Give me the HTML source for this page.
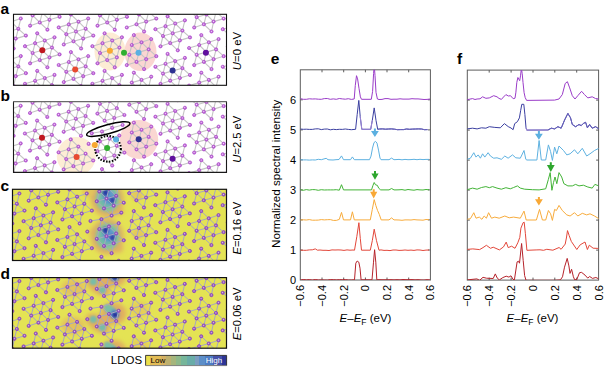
<!DOCTYPE html>
<html><head><meta charset="utf-8"><style>html,body{margin:0;padding:0;background:#fff;}svg{display:block;}</style></head><body>
<svg width="605" height="367" viewBox="0 0 605 367">
<defs>
<clipPath id="clipa"><rect x="13.5" y="14.3" width="213.0" height="71.0"/></clipPath>
<clipPath id="clipb"><rect x="13.5" y="101.6" width="213.0" height="70.80000000000001"/></clipPath>
<clipPath id="clipc"><rect x="12.5" y="189.3" width="214.0" height="71.19999999999999"/></clipPath>
<clipPath id="clipd"><rect x="12.5" y="277.6" width="214.0" height="70.59999999999997"/></clipPath>
<radialGradient id="atomg" cx="0.45" cy="0.45" r="0.6"><stop offset="0" stop-color="#f4e2f8"/><stop offset="0.45" stop-color="#c474dc"/><stop offset="1" stop-color="#ac4ccc"/></radialGradient>
<radialGradient id="atomg2" cx="0.45" cy="0.45" r="0.6"><stop offset="0" stop-color="#dcc0e6"/><stop offset="0.45" stop-color="#a468c8"/><stop offset="1" stop-color="#9656bf"/></radialGradient>
<filter id="blur3" x="-50%" y="-50%" width="200%" height="200%"><feGaussianBlur stdDeviation="3"/></filter>
<filter id="blur2" x="-50%" y="-50%" width="200%" height="200%"><feGaussianBlur stdDeviation="2"/></filter>
<filter id="blur1" x="-50%" y="-50%" width="200%" height="200%"><feGaussianBlur stdDeviation="1.1"/></filter>
<linearGradient id="cbar" x1="0" x2="1" y1="0" y2="0"><stop offset="0" stop-color="#ece14a"/><stop offset="0.12" stop-color="#e2c255"/><stop offset="0.3" stop-color="#c7b66c"/><stop offset="0.45" stop-color="#9fbd82"/><stop offset="0.6" stop-color="#74b7a0"/><stop offset="0.75" stop-color="#6a9ec4"/><stop offset="0.88" stop-color="#5578c4"/><stop offset="1" stop-color="#2a3596"/></linearGradient>
</defs>
<rect width="605" height="367" fill="#fff"/>
<g font-family='"Liberation Sans", sans-serif' font-weight="bold" font-size="15.5" fill="#000">
<text x="0.5" y="13.8">a</text>
<text x="0.5" y="100.8">b</text>
<text x="0.5" y="191.0">c</text>
<text x="0.5" y="278.8">d</text>
<text x="270.7" y="64.2">e</text>
<text x="457" y="63.8">f</text>
</g>
<rect x="13.5" y="14.3" width="213.0" height="71.0" fill="#fff"/>
<g clip-path="url(#clipa)">
<ellipse cx="110" cy="51.5" rx="15.5" ry="19" fill="#fdecd4"/>
<ellipse cx="140.5" cy="51.8" rx="16" ry="19.3" fill="#fad6d2"/>
</g>
<g clip-path="url(#clipa)">
<g stroke="#c4c4c4" stroke-width="1.1" fill="none">
<line x1="8.6" y1="69.1" x2="18.3" y2="66.4"/>
<line x1="18.3" y1="66.4" x2="15.8" y2="76.2"/>
<line x1="25.9" y1="73.2" x2="18.3" y2="66.4"/>
<line x1="25.9" y1="73.2" x2="15.8" y2="76.2"/>
<line x1="8.6" y1="69.1" x2="15.8" y2="76.2"/>
<line x1="15.8" y1="76.2" x2="6.1" y2="78.9"/>
<line x1="13.7" y1="86.1" x2="15.8" y2="76.2"/>
<line x1="13.7" y1="86.1" x2="6.1" y2="78.9"/>
<line x1="1.4" y1="62.0" x2="11.1" y2="59.3"/>
<line x1="3.5" y1="52.1" x2="11.1" y2="59.3"/>
<line x1="8.6" y1="69.1" x2="11.1" y2="59.3"/>
<line x1="11.1" y1="59.3" x2="18.3" y2="66.4"/>
<line x1="20.8" y1="56.1" x2="11.1" y2="59.3"/>
<line x1="20.8" y1="56.1" x2="18.3" y2="66.4"/>
<line x1="42.3" y1="87.9" x2="52.0" y2="85.2"/>
<line x1="52.0" y1="85.2" x2="49.5" y2="95.0"/>
<line x1="59.6" y1="92.0" x2="52.0" y2="85.2"/>
<line x1="42.3" y1="87.9" x2="49.5" y2="95.0"/>
<line x1="42.3" y1="87.9" x2="39.8" y2="97.7"/>
<line x1="42.3" y1="87.9" x2="32.6" y2="90.6"/>
<line x1="32.6" y1="90.6" x2="35.1" y2="80.8"/>
<line x1="25.0" y1="83.8" x2="32.6" y2="90.6"/>
<line x1="25.0" y1="83.8" x2="35.1" y2="80.8"/>
<line x1="42.3" y1="87.9" x2="35.1" y2="80.8"/>
<line x1="35.1" y1="80.8" x2="44.8" y2="78.1"/>
<line x1="37.2" y1="70.9" x2="35.1" y2="80.8"/>
<line x1="37.2" y1="70.9" x2="44.8" y2="78.1"/>
<line x1="42.3" y1="87.9" x2="44.8" y2="78.1"/>
<line x1="44.8" y1="78.1" x2="52.0" y2="85.2"/>
<line x1="54.5" y1="74.9" x2="44.8" y2="78.1"/>
<line x1="54.5" y1="74.9" x2="52.0" y2="85.2"/>
<line x1="8.6" y1="31.5" x2="18.3" y2="28.8"/>
<line x1="18.3" y1="28.8" x2="15.8" y2="38.6"/>
<line x1="25.9" y1="35.6" x2="18.3" y2="28.8"/>
<line x1="25.9" y1="35.6" x2="15.8" y2="38.6"/>
<line x1="8.6" y1="31.5" x2="15.8" y2="38.6"/>
<line x1="15.8" y1="38.6" x2="6.1" y2="41.3"/>
<line x1="13.7" y1="48.5" x2="15.8" y2="38.6"/>
<line x1="13.7" y1="48.5" x2="6.1" y2="41.3"/>
<line x1="1.4" y1="24.4" x2="11.1" y2="21.7"/>
<line x1="3.5" y1="14.5" x2="11.1" y2="21.7"/>
<line x1="8.6" y1="31.5" x2="11.1" y2="21.7"/>
<line x1="11.1" y1="21.7" x2="18.3" y2="28.8"/>
<line x1="20.8" y1="18.5" x2="11.1" y2="21.7"/>
<line x1="20.8" y1="18.5" x2="18.3" y2="28.8"/>
<line x1="42.3" y1="50.3" x2="52.0" y2="47.6"/>
<line x1="52.0" y1="47.6" x2="49.5" y2="57.4"/>
<line x1="59.6" y1="54.4" x2="52.0" y2="47.6"/>
<line x1="59.6" y1="54.4" x2="49.5" y2="57.4"/>
<line x1="42.3" y1="50.3" x2="49.5" y2="57.4"/>
<line x1="49.5" y1="57.4" x2="39.8" y2="60.1"/>
<line x1="47.4" y1="67.3" x2="49.5" y2="57.4"/>
<line x1="47.4" y1="67.3" x2="39.8" y2="60.1"/>
<line x1="42.3" y1="50.3" x2="39.8" y2="60.1"/>
<line x1="39.8" y1="60.1" x2="32.6" y2="53.0"/>
<line x1="30.1" y1="63.3" x2="39.8" y2="60.1"/>
<line x1="30.1" y1="63.3" x2="32.6" y2="53.0"/>
<line x1="42.3" y1="50.3" x2="32.6" y2="53.0"/>
<line x1="32.6" y1="53.0" x2="35.1" y2="43.2"/>
<line x1="25.0" y1="46.2" x2="32.6" y2="53.0"/>
<line x1="25.0" y1="46.2" x2="35.1" y2="43.2"/>
<line x1="42.3" y1="50.3" x2="35.1" y2="43.2"/>
<line x1="35.1" y1="43.2" x2="44.8" y2="40.5"/>
<line x1="37.2" y1="33.3" x2="35.1" y2="43.2"/>
<line x1="37.2" y1="33.3" x2="44.8" y2="40.5"/>
<line x1="42.3" y1="50.3" x2="44.8" y2="40.5"/>
<line x1="44.8" y1="40.5" x2="52.0" y2="47.6"/>
<line x1="54.5" y1="37.3" x2="44.8" y2="40.5"/>
<line x1="54.5" y1="37.3" x2="52.0" y2="47.6"/>
<line x1="76.0" y1="69.1" x2="85.7" y2="66.4"/>
<line x1="85.7" y1="66.4" x2="83.2" y2="76.2"/>
<line x1="93.3" y1="73.2" x2="85.7" y2="66.4"/>
<line x1="93.3" y1="73.2" x2="83.2" y2="76.2"/>
<line x1="76.0" y1="69.1" x2="83.2" y2="76.2"/>
<line x1="83.2" y1="76.2" x2="73.5" y2="78.9"/>
<line x1="81.1" y1="86.1" x2="83.2" y2="76.2"/>
<line x1="81.1" y1="86.1" x2="73.5" y2="78.9"/>
<line x1="76.0" y1="69.1" x2="73.5" y2="78.9"/>
<line x1="73.5" y1="78.9" x2="66.3" y2="71.8"/>
<line x1="63.8" y1="82.1" x2="73.5" y2="78.9"/>
<line x1="63.8" y1="82.1" x2="66.3" y2="71.8"/>
<line x1="76.0" y1="69.1" x2="66.3" y2="71.8"/>
<line x1="66.3" y1="71.8" x2="68.8" y2="62.0"/>
<line x1="58.7" y1="65.0" x2="66.3" y2="71.8"/>
<line x1="58.7" y1="65.0" x2="68.8" y2="62.0"/>
<line x1="76.0" y1="69.1" x2="68.8" y2="62.0"/>
<line x1="68.8" y1="62.0" x2="78.5" y2="59.3"/>
<line x1="70.9" y1="52.1" x2="68.8" y2="62.0"/>
<line x1="70.9" y1="52.1" x2="78.5" y2="59.3"/>
<line x1="76.0" y1="69.1" x2="78.5" y2="59.3"/>
<line x1="78.5" y1="59.3" x2="85.7" y2="66.4"/>
<line x1="88.2" y1="56.1" x2="78.5" y2="59.3"/>
<line x1="88.2" y1="56.1" x2="85.7" y2="66.4"/>
<line x1="109.7" y1="87.9" x2="119.4" y2="85.2"/>
<line x1="119.4" y1="85.2" x2="116.9" y2="95.0"/>
<line x1="127.0" y1="92.0" x2="119.4" y2="85.2"/>
<line x1="109.7" y1="87.9" x2="116.9" y2="95.0"/>
<line x1="109.7" y1="87.9" x2="107.2" y2="97.7"/>
<line x1="109.7" y1="87.9" x2="100.0" y2="90.6"/>
<line x1="100.0" y1="90.6" x2="102.5" y2="80.8"/>
<line x1="92.4" y1="83.8" x2="100.0" y2="90.6"/>
<line x1="92.4" y1="83.8" x2="102.5" y2="80.8"/>
<line x1="109.7" y1="87.9" x2="102.5" y2="80.8"/>
<line x1="102.5" y1="80.8" x2="112.2" y2="78.1"/>
<line x1="104.6" y1="70.9" x2="102.5" y2="80.8"/>
<line x1="104.6" y1="70.9" x2="112.2" y2="78.1"/>
<line x1="109.7" y1="87.9" x2="112.2" y2="78.1"/>
<line x1="112.2" y1="78.1" x2="119.4" y2="85.2"/>
<line x1="121.9" y1="74.9" x2="112.2" y2="78.1"/>
<line x1="121.9" y1="74.9" x2="119.4" y2="85.2"/>
<line x1="42.3" y1="12.7" x2="52.0" y2="10.0"/>
<line x1="52.0" y1="10.0" x2="49.5" y2="19.8"/>
<line x1="59.6" y1="16.8" x2="52.0" y2="10.0"/>
<line x1="59.6" y1="16.8" x2="49.5" y2="19.8"/>
<line x1="42.3" y1="12.7" x2="49.5" y2="19.8"/>
<line x1="49.5" y1="19.8" x2="39.8" y2="22.5"/>
<line x1="47.4" y1="29.7" x2="49.5" y2="19.8"/>
<line x1="47.4" y1="29.7" x2="39.8" y2="22.5"/>
<line x1="42.3" y1="12.7" x2="39.8" y2="22.5"/>
<line x1="39.8" y1="22.5" x2="32.6" y2="15.4"/>
<line x1="30.1" y1="25.7" x2="39.8" y2="22.5"/>
<line x1="30.1" y1="25.7" x2="32.6" y2="15.4"/>
<line x1="42.3" y1="12.7" x2="32.6" y2="15.4"/>
<line x1="32.6" y1="15.4" x2="35.1" y2="5.6"/>
<line x1="25.0" y1="8.6" x2="32.6" y2="15.4"/>
<line x1="42.3" y1="12.7" x2="35.1" y2="5.6"/>
<line x1="42.3" y1="12.7" x2="44.8" y2="2.9"/>
<line x1="76.0" y1="31.5" x2="85.7" y2="28.8"/>
<line x1="85.7" y1="28.8" x2="83.2" y2="38.6"/>
<line x1="93.3" y1="35.6" x2="85.7" y2="28.8"/>
<line x1="93.3" y1="35.6" x2="83.2" y2="38.6"/>
<line x1="76.0" y1="31.5" x2="83.2" y2="38.6"/>
<line x1="83.2" y1="38.6" x2="73.5" y2="41.3"/>
<line x1="81.1" y1="48.5" x2="83.2" y2="38.6"/>
<line x1="81.1" y1="48.5" x2="73.5" y2="41.3"/>
<line x1="76.0" y1="31.5" x2="73.5" y2="41.3"/>
<line x1="73.5" y1="41.3" x2="66.3" y2="34.2"/>
<line x1="63.8" y1="44.5" x2="73.5" y2="41.3"/>
<line x1="63.8" y1="44.5" x2="66.3" y2="34.2"/>
<line x1="76.0" y1="31.5" x2="66.3" y2="34.2"/>
<line x1="66.3" y1="34.2" x2="68.8" y2="24.4"/>
<line x1="58.7" y1="27.4" x2="66.3" y2="34.2"/>
<line x1="58.7" y1="27.4" x2="68.8" y2="24.4"/>
<line x1="76.0" y1="31.5" x2="68.8" y2="24.4"/>
<line x1="68.8" y1="24.4" x2="78.5" y2="21.7"/>
<line x1="70.9" y1="14.5" x2="68.8" y2="24.4"/>
<line x1="70.9" y1="14.5" x2="78.5" y2="21.7"/>
<line x1="76.0" y1="31.5" x2="78.5" y2="21.7"/>
<line x1="78.5" y1="21.7" x2="85.7" y2="28.8"/>
<line x1="88.2" y1="18.5" x2="78.5" y2="21.7"/>
<line x1="88.2" y1="18.5" x2="85.7" y2="28.8"/>
<line x1="109.7" y1="50.3" x2="119.4" y2="47.6"/>
<line x1="119.4" y1="47.6" x2="116.9" y2="57.4"/>
<line x1="109.7" y1="50.3" x2="116.9" y2="57.4"/>
<line x1="116.9" y1="57.4" x2="107.2" y2="60.1"/>
<line x1="114.8" y1="67.3" x2="116.9" y2="57.4"/>
<line x1="114.8" y1="67.3" x2="107.2" y2="60.1"/>
<line x1="109.7" y1="50.3" x2="107.2" y2="60.1"/>
<line x1="107.2" y1="60.1" x2="100.0" y2="53.0"/>
<line x1="97.5" y1="63.3" x2="107.2" y2="60.1"/>
<line x1="97.5" y1="63.3" x2="100.0" y2="53.0"/>
<line x1="109.7" y1="50.3" x2="100.0" y2="53.0"/>
<line x1="100.0" y1="53.0" x2="102.5" y2="43.2"/>
<line x1="92.4" y1="46.2" x2="100.0" y2="53.0"/>
<line x1="92.4" y1="46.2" x2="102.5" y2="43.2"/>
<line x1="109.7" y1="50.3" x2="102.5" y2="43.2"/>
<line x1="102.5" y1="43.2" x2="112.2" y2="40.5"/>
<line x1="104.6" y1="33.3" x2="102.5" y2="43.2"/>
<line x1="104.6" y1="33.3" x2="112.2" y2="40.5"/>
<line x1="109.7" y1="50.3" x2="112.2" y2="40.5"/>
<line x1="112.2" y1="40.5" x2="119.4" y2="47.6"/>
<line x1="121.9" y1="37.3" x2="112.2" y2="40.5"/>
<line x1="121.9" y1="37.3" x2="119.4" y2="47.6"/>
<line x1="109.7" y1="12.7" x2="119.4" y2="10.0"/>
<line x1="119.4" y1="10.0" x2="116.9" y2="19.8"/>
<line x1="127.0" y1="16.8" x2="119.4" y2="10.0"/>
<line x1="127.0" y1="16.8" x2="116.9" y2="19.8"/>
<line x1="109.7" y1="12.7" x2="116.9" y2="19.8"/>
<line x1="116.9" y1="19.8" x2="107.2" y2="22.5"/>
<line x1="114.8" y1="29.7" x2="116.9" y2="19.8"/>
<line x1="114.8" y1="29.7" x2="107.2" y2="22.5"/>
<line x1="109.7" y1="12.7" x2="107.2" y2="22.5"/>
<line x1="107.2" y1="22.5" x2="100.0" y2="15.4"/>
<line x1="97.5" y1="25.7" x2="107.2" y2="22.5"/>
<line x1="97.5" y1="25.7" x2="100.0" y2="15.4"/>
<line x1="109.7" y1="12.7" x2="100.0" y2="15.4"/>
<line x1="100.0" y1="15.4" x2="102.5" y2="5.6"/>
<line x1="92.4" y1="8.6" x2="100.0" y2="15.4"/>
<line x1="109.7" y1="12.7" x2="102.5" y2="5.6"/>
<line x1="109.7" y1="12.7" x2="112.2" y2="2.9"/>
<line x1="139.0" y1="89.7" x2="148.7" y2="87.0"/>
<line x1="148.7" y1="87.0" x2="146.2" y2="96.8"/>
<line x1="156.3" y1="93.8" x2="148.7" y2="87.0"/>
<line x1="139.0" y1="89.7" x2="131.8" y2="82.6"/>
<line x1="131.8" y1="82.6" x2="141.5" y2="79.9"/>
<line x1="133.9" y1="72.7" x2="131.8" y2="82.6"/>
<line x1="133.9" y1="72.7" x2="141.5" y2="79.9"/>
<line x1="139.0" y1="89.7" x2="141.5" y2="79.9"/>
<line x1="141.5" y1="79.9" x2="148.7" y2="87.0"/>
<line x1="151.2" y1="76.7" x2="141.5" y2="79.9"/>
<line x1="151.2" y1="76.7" x2="148.7" y2="87.0"/>
<line x1="139.0" y1="52.1" x2="148.7" y2="49.4"/>
<line x1="148.7" y1="49.4" x2="146.2" y2="59.2"/>
<line x1="156.3" y1="56.2" x2="148.7" y2="49.4"/>
<line x1="156.3" y1="56.2" x2="146.2" y2="59.2"/>
<line x1="139.0" y1="52.1" x2="146.2" y2="59.2"/>
<line x1="146.2" y1="59.2" x2="136.5" y2="61.9"/>
<line x1="144.1" y1="69.1" x2="146.2" y2="59.2"/>
<line x1="144.1" y1="69.1" x2="136.5" y2="61.9"/>
<line x1="139.0" y1="52.1" x2="136.5" y2="61.9"/>
<line x1="136.5" y1="61.9" x2="129.3" y2="54.8"/>
<line x1="126.8" y1="65.1" x2="136.5" y2="61.9"/>
<line x1="126.8" y1="65.1" x2="129.3" y2="54.8"/>
<line x1="139.0" y1="52.1" x2="129.3" y2="54.8"/>
<line x1="129.3" y1="54.8" x2="131.8" y2="45.0"/>
<line x1="139.0" y1="52.1" x2="131.8" y2="45.0"/>
<line x1="131.8" y1="45.0" x2="141.5" y2="42.3"/>
<line x1="133.9" y1="35.1" x2="131.8" y2="45.0"/>
<line x1="133.9" y1="35.1" x2="141.5" y2="42.3"/>
<line x1="139.0" y1="52.1" x2="141.5" y2="42.3"/>
<line x1="141.5" y1="42.3" x2="148.7" y2="49.4"/>
<line x1="151.2" y1="39.1" x2="141.5" y2="42.3"/>
<line x1="151.2" y1="39.1" x2="148.7" y2="49.4"/>
<line x1="172.7" y1="70.9" x2="182.4" y2="68.2"/>
<line x1="182.4" y1="68.2" x2="179.9" y2="78.0"/>
<line x1="190.0" y1="75.0" x2="182.4" y2="68.2"/>
<line x1="190.0" y1="75.0" x2="179.9" y2="78.0"/>
<line x1="172.7" y1="70.9" x2="179.9" y2="78.0"/>
<line x1="179.9" y1="78.0" x2="170.2" y2="80.7"/>
<line x1="177.8" y1="87.9" x2="179.9" y2="78.0"/>
<line x1="177.8" y1="87.9" x2="170.2" y2="80.7"/>
<line x1="172.7" y1="70.9" x2="170.2" y2="80.7"/>
<line x1="170.2" y1="80.7" x2="163.0" y2="73.6"/>
<line x1="160.5" y1="83.9" x2="170.2" y2="80.7"/>
<line x1="160.5" y1="83.9" x2="163.0" y2="73.6"/>
<line x1="172.7" y1="70.9" x2="163.0" y2="73.6"/>
<line x1="163.0" y1="73.6" x2="165.5" y2="63.8"/>
<line x1="155.4" y1="66.8" x2="163.0" y2="73.6"/>
<line x1="155.4" y1="66.8" x2="165.5" y2="63.8"/>
<line x1="172.7" y1="70.9" x2="165.5" y2="63.8"/>
<line x1="165.5" y1="63.8" x2="175.2" y2="61.1"/>
<line x1="167.6" y1="53.9" x2="165.5" y2="63.8"/>
<line x1="167.6" y1="53.9" x2="175.2" y2="61.1"/>
<line x1="172.7" y1="70.9" x2="175.2" y2="61.1"/>
<line x1="175.2" y1="61.1" x2="182.4" y2="68.2"/>
<line x1="184.9" y1="57.9" x2="175.2" y2="61.1"/>
<line x1="184.9" y1="57.9" x2="182.4" y2="68.2"/>
<line x1="206.4" y1="89.7" x2="216.1" y2="87.0"/>
<line x1="216.1" y1="87.0" x2="213.6" y2="96.8"/>
<line x1="223.7" y1="93.8" x2="216.1" y2="87.0"/>
<line x1="196.7" y1="92.4" x2="199.2" y2="82.6"/>
<line x1="189.1" y1="85.6" x2="196.7" y2="92.4"/>
<line x1="189.1" y1="85.6" x2="199.2" y2="82.6"/>
<line x1="206.4" y1="89.7" x2="199.2" y2="82.6"/>
<line x1="199.2" y1="82.6" x2="208.9" y2="79.9"/>
<line x1="201.3" y1="72.7" x2="199.2" y2="82.6"/>
<line x1="201.3" y1="72.7" x2="208.9" y2="79.9"/>
<line x1="206.4" y1="89.7" x2="208.9" y2="79.9"/>
<line x1="208.9" y1="79.9" x2="216.1" y2="87.0"/>
<line x1="218.6" y1="76.7" x2="208.9" y2="79.9"/>
<line x1="218.6" y1="76.7" x2="216.1" y2="87.0"/>
<line x1="139.0" y1="14.5" x2="148.7" y2="11.8"/>
<line x1="148.7" y1="11.8" x2="146.2" y2="21.6"/>
<line x1="156.3" y1="18.6" x2="148.7" y2="11.8"/>
<line x1="156.3" y1="18.6" x2="146.2" y2="21.6"/>
<line x1="139.0" y1="14.5" x2="146.2" y2="21.6"/>
<line x1="146.2" y1="21.6" x2="136.5" y2="24.3"/>
<line x1="144.1" y1="31.5" x2="146.2" y2="21.6"/>
<line x1="144.1" y1="31.5" x2="136.5" y2="24.3"/>
<line x1="139.0" y1="14.5" x2="136.5" y2="24.3"/>
<line x1="126.8" y1="27.5" x2="136.5" y2="24.3"/>
<line x1="139.0" y1="14.5" x2="131.8" y2="7.4"/>
<line x1="139.0" y1="14.5" x2="141.5" y2="4.7"/>
<line x1="141.5" y1="4.7" x2="148.7" y2="11.8"/>
<line x1="151.2" y1="1.5" x2="148.7" y2="11.8"/>
<line x1="172.7" y1="33.3" x2="182.4" y2="30.6"/>
<line x1="182.4" y1="30.6" x2="179.9" y2="40.4"/>
<line x1="190.0" y1="37.4" x2="182.4" y2="30.6"/>
<line x1="190.0" y1="37.4" x2="179.9" y2="40.4"/>
<line x1="172.7" y1="33.3" x2="179.9" y2="40.4"/>
<line x1="179.9" y1="40.4" x2="170.2" y2="43.1"/>
<line x1="177.8" y1="50.3" x2="179.9" y2="40.4"/>
<line x1="177.8" y1="50.3" x2="170.2" y2="43.1"/>
<line x1="172.7" y1="33.3" x2="170.2" y2="43.1"/>
<line x1="170.2" y1="43.1" x2="163.0" y2="36.0"/>
<line x1="160.5" y1="46.3" x2="170.2" y2="43.1"/>
<line x1="160.5" y1="46.3" x2="163.0" y2="36.0"/>
<line x1="172.7" y1="33.3" x2="163.0" y2="36.0"/>
<line x1="163.0" y1="36.0" x2="165.5" y2="26.2"/>
<line x1="155.4" y1="29.2" x2="163.0" y2="36.0"/>
<line x1="155.4" y1="29.2" x2="165.5" y2="26.2"/>
<line x1="172.7" y1="33.3" x2="165.5" y2="26.2"/>
<line x1="165.5" y1="26.2" x2="175.2" y2="23.5"/>
<line x1="167.6" y1="16.3" x2="165.5" y2="26.2"/>
<line x1="167.6" y1="16.3" x2="175.2" y2="23.5"/>
<line x1="172.7" y1="33.3" x2="175.2" y2="23.5"/>
<line x1="175.2" y1="23.5" x2="182.4" y2="30.6"/>
<line x1="184.9" y1="20.3" x2="175.2" y2="23.5"/>
<line x1="184.9" y1="20.3" x2="182.4" y2="30.6"/>
<line x1="206.4" y1="52.1" x2="216.1" y2="49.4"/>
<line x1="216.1" y1="49.4" x2="213.6" y2="59.2"/>
<line x1="223.7" y1="56.2" x2="216.1" y2="49.4"/>
<line x1="223.7" y1="56.2" x2="213.6" y2="59.2"/>
<line x1="206.4" y1="52.1" x2="213.6" y2="59.2"/>
<line x1="213.6" y1="59.2" x2="203.9" y2="61.9"/>
<line x1="211.5" y1="69.1" x2="213.6" y2="59.2"/>
<line x1="211.5" y1="69.1" x2="203.9" y2="61.9"/>
<line x1="206.4" y1="52.1" x2="203.9" y2="61.9"/>
<line x1="203.9" y1="61.9" x2="196.7" y2="54.8"/>
<line x1="194.2" y1="65.1" x2="203.9" y2="61.9"/>
<line x1="194.2" y1="65.1" x2="196.7" y2="54.8"/>
<line x1="206.4" y1="52.1" x2="196.7" y2="54.8"/>
<line x1="196.7" y1="54.8" x2="199.2" y2="45.0"/>
<line x1="189.1" y1="48.0" x2="196.7" y2="54.8"/>
<line x1="189.1" y1="48.0" x2="199.2" y2="45.0"/>
<line x1="206.4" y1="52.1" x2="199.2" y2="45.0"/>
<line x1="199.2" y1="45.0" x2="208.9" y2="42.3"/>
<line x1="201.3" y1="35.1" x2="199.2" y2="45.0"/>
<line x1="201.3" y1="35.1" x2="208.9" y2="42.3"/>
<line x1="206.4" y1="52.1" x2="208.9" y2="42.3"/>
<line x1="208.9" y1="42.3" x2="216.1" y2="49.4"/>
<line x1="218.6" y1="39.1" x2="208.9" y2="42.3"/>
<line x1="218.6" y1="39.1" x2="216.1" y2="49.4"/>
<line x1="227.9" y1="83.9" x2="237.6" y2="80.7"/>
<line x1="227.9" y1="83.9" x2="230.4" y2="73.6"/>
<line x1="222.8" y1="66.8" x2="230.4" y2="73.6"/>
<line x1="222.8" y1="66.8" x2="232.9" y2="63.8"/>
<line x1="177.8" y1="12.7" x2="179.9" y2="2.8"/>
<line x1="177.8" y1="12.7" x2="170.2" y2="5.5"/>
<line x1="206.4" y1="14.5" x2="216.1" y2="11.8"/>
<line x1="216.1" y1="11.8" x2="213.6" y2="21.6"/>
<line x1="223.7" y1="18.6" x2="216.1" y2="11.8"/>
<line x1="223.7" y1="18.6" x2="213.6" y2="21.6"/>
<line x1="206.4" y1="14.5" x2="213.6" y2="21.6"/>
<line x1="213.6" y1="21.6" x2="203.9" y2="24.3"/>
<line x1="211.5" y1="31.5" x2="213.6" y2="21.6"/>
<line x1="211.5" y1="31.5" x2="203.9" y2="24.3"/>
<line x1="206.4" y1="14.5" x2="203.9" y2="24.3"/>
<line x1="203.9" y1="24.3" x2="196.7" y2="17.2"/>
<line x1="194.2" y1="27.5" x2="203.9" y2="24.3"/>
<line x1="194.2" y1="27.5" x2="196.7" y2="17.2"/>
<line x1="206.4" y1="14.5" x2="196.7" y2="17.2"/>
<line x1="196.7" y1="17.2" x2="199.2" y2="7.4"/>
<line x1="189.1" y1="10.4" x2="196.7" y2="17.2"/>
<line x1="206.4" y1="14.5" x2="199.2" y2="7.4"/>
<line x1="206.4" y1="14.5" x2="208.9" y2="4.7"/>
<line x1="208.9" y1="4.7" x2="216.1" y2="11.8"/>
<line x1="218.6" y1="1.5" x2="216.1" y2="11.8"/>
<line x1="227.9" y1="46.3" x2="237.6" y2="43.1"/>
<line x1="227.9" y1="46.3" x2="230.4" y2="36.0"/>
<line x1="222.8" y1="29.2" x2="230.4" y2="36.0"/>
<line x1="222.8" y1="29.2" x2="232.9" y2="26.2"/>
</g>
<g fill="url(#atomg)" stroke="#b04ecc" stroke-width="0.75">
<circle cx="124.0" cy="52.8" r="1.6"/>
<circle cx="18.3" cy="66.4" r="1.6"/>
<circle cx="15.8" cy="76.2" r="1.6"/>
<circle cx="11.1" cy="59.3" r="1.6"/>
<circle cx="25.9" cy="73.2" r="1.6"/>
<circle cx="13.7" cy="86.1" r="1.6"/>
<circle cx="20.8" cy="56.1" r="1.6"/>
<circle cx="42.3" cy="87.9" r="1.6"/>
<circle cx="52.0" cy="85.2" r="1.6"/>
<circle cx="35.1" cy="80.8" r="1.6"/>
<circle cx="44.8" cy="78.1" r="1.6"/>
<circle cx="25.0" cy="83.8" r="1.6"/>
<circle cx="37.2" cy="70.9" r="1.6"/>
<circle cx="54.5" cy="74.9" r="1.6"/>
<circle cx="18.3" cy="28.8" r="1.6"/>
<circle cx="15.8" cy="38.6" r="1.6"/>
<circle cx="11.1" cy="21.7" r="1.6"/>
<circle cx="25.9" cy="35.6" r="1.6"/>
<circle cx="13.7" cy="48.5" r="1.6"/>
<circle cx="20.8" cy="18.5" r="1.6"/>
<circle cx="42.3" cy="50.3" r="1.6"/>
<circle cx="52.0" cy="47.6" r="1.6"/>
<circle cx="49.5" cy="57.4" r="1.6"/>
<circle cx="39.8" cy="60.1" r="1.6"/>
<circle cx="32.6" cy="53.0" r="1.6"/>
<circle cx="35.1" cy="43.2" r="1.6"/>
<circle cx="44.8" cy="40.5" r="1.6"/>
<circle cx="59.6" cy="54.4" r="1.6"/>
<circle cx="47.4" cy="67.3" r="1.6"/>
<circle cx="30.1" cy="63.3" r="1.6"/>
<circle cx="25.0" cy="46.2" r="1.6"/>
<circle cx="37.2" cy="33.3" r="1.6"/>
<circle cx="54.5" cy="37.3" r="1.6"/>
<circle cx="76.0" cy="69.1" r="1.6"/>
<circle cx="85.7" cy="66.4" r="1.6"/>
<circle cx="83.2" cy="76.2" r="1.6"/>
<circle cx="73.5" cy="78.9" r="1.6"/>
<circle cx="66.3" cy="71.8" r="1.6"/>
<circle cx="68.8" cy="62.0" r="1.6"/>
<circle cx="78.5" cy="59.3" r="1.6"/>
<circle cx="93.3" cy="73.2" r="1.6"/>
<circle cx="81.1" cy="86.1" r="1.6"/>
<circle cx="63.8" cy="82.1" r="1.6"/>
<circle cx="58.7" cy="65.0" r="1.6"/>
<circle cx="70.9" cy="52.1" r="1.6"/>
<circle cx="88.2" cy="56.1" r="1.6"/>
<circle cx="109.7" cy="87.9" r="1.6"/>
<circle cx="119.4" cy="85.2" r="1.6"/>
<circle cx="102.5" cy="80.8" r="1.6"/>
<circle cx="112.2" cy="78.1" r="1.6"/>
<circle cx="92.4" cy="83.8" r="1.6"/>
<circle cx="104.6" cy="70.9" r="1.6"/>
<circle cx="121.9" cy="74.9" r="1.6"/>
<circle cx="42.3" cy="12.7" r="1.6"/>
<circle cx="49.5" cy="19.8" r="1.6"/>
<circle cx="39.8" cy="22.5" r="1.6"/>
<circle cx="32.6" cy="15.4" r="1.6"/>
<circle cx="59.6" cy="16.8" r="1.6"/>
<circle cx="47.4" cy="29.7" r="1.6"/>
<circle cx="30.1" cy="25.7" r="1.6"/>
<circle cx="76.0" cy="31.5" r="1.6"/>
<circle cx="85.7" cy="28.8" r="1.6"/>
<circle cx="83.2" cy="38.6" r="1.6"/>
<circle cx="73.5" cy="41.3" r="1.6"/>
<circle cx="66.3" cy="34.2" r="1.6"/>
<circle cx="68.8" cy="24.4" r="1.6"/>
<circle cx="78.5" cy="21.7" r="1.6"/>
<circle cx="93.3" cy="35.6" r="1.6"/>
<circle cx="81.1" cy="48.5" r="1.6"/>
<circle cx="63.8" cy="44.5" r="1.6"/>
<circle cx="58.7" cy="27.4" r="1.6"/>
<circle cx="70.9" cy="14.5" r="1.6"/>
<circle cx="88.2" cy="18.5" r="1.6"/>
<circle cx="109.7" cy="50.3" r="1.6"/>
<circle cx="119.4" cy="47.6" r="1.6"/>
<circle cx="116.9" cy="57.4" r="1.6"/>
<circle cx="107.2" cy="60.1" r="1.6"/>
<circle cx="100.0" cy="53.0" r="1.6"/>
<circle cx="102.5" cy="43.2" r="1.6"/>
<circle cx="112.2" cy="40.5" r="1.6"/>
<circle cx="114.8" cy="67.3" r="1.6"/>
<circle cx="97.5" cy="63.3" r="1.6"/>
<circle cx="92.4" cy="46.2" r="1.6"/>
<circle cx="104.6" cy="33.3" r="1.6"/>
<circle cx="121.9" cy="37.3" r="1.6"/>
<circle cx="109.7" cy="12.7" r="1.6"/>
<circle cx="116.9" cy="19.8" r="1.6"/>
<circle cx="107.2" cy="22.5" r="1.6"/>
<circle cx="100.0" cy="15.4" r="1.6"/>
<circle cx="127.0" cy="16.8" r="1.6"/>
<circle cx="114.8" cy="29.7" r="1.6"/>
<circle cx="97.5" cy="25.7" r="1.6"/>
<circle cx="148.7" cy="87.0" r="1.6"/>
<circle cx="131.8" cy="82.6" r="1.6"/>
<circle cx="141.5" cy="79.9" r="1.6"/>
<circle cx="133.9" cy="72.7" r="1.6"/>
<circle cx="151.2" cy="76.7" r="1.6"/>
<circle cx="139.0" cy="52.1" r="1.6"/>
<circle cx="148.7" cy="49.4" r="1.6"/>
<circle cx="146.2" cy="59.2" r="1.6"/>
<circle cx="136.5" cy="61.9" r="1.6"/>
<circle cx="129.3" cy="54.8" r="1.6"/>
<circle cx="131.8" cy="45.0" r="1.6"/>
<circle cx="141.5" cy="42.3" r="1.6"/>
<circle cx="156.3" cy="56.2" r="1.6"/>
<circle cx="144.1" cy="69.1" r="1.6"/>
<circle cx="126.8" cy="65.1" r="1.6"/>
<circle cx="133.9" cy="35.1" r="1.6"/>
<circle cx="151.2" cy="39.1" r="1.6"/>
<circle cx="172.7" cy="70.9" r="1.6"/>
<circle cx="182.4" cy="68.2" r="1.6"/>
<circle cx="179.9" cy="78.0" r="1.6"/>
<circle cx="170.2" cy="80.7" r="1.6"/>
<circle cx="163.0" cy="73.6" r="1.6"/>
<circle cx="165.5" cy="63.8" r="1.6"/>
<circle cx="175.2" cy="61.1" r="1.6"/>
<circle cx="190.0" cy="75.0" r="1.6"/>
<circle cx="177.8" cy="87.9" r="1.6"/>
<circle cx="160.5" cy="83.9" r="1.6"/>
<circle cx="155.4" cy="66.8" r="1.6"/>
<circle cx="167.6" cy="53.9" r="1.6"/>
<circle cx="184.9" cy="57.9" r="1.6"/>
<circle cx="216.1" cy="87.0" r="1.6"/>
<circle cx="199.2" cy="82.6" r="1.6"/>
<circle cx="208.9" cy="79.9" r="1.6"/>
<circle cx="189.1" cy="85.6" r="1.6"/>
<circle cx="201.3" cy="72.7" r="1.6"/>
<circle cx="218.6" cy="76.7" r="1.6"/>
<circle cx="139.0" cy="14.5" r="1.6"/>
<circle cx="148.7" cy="11.8" r="1.6"/>
<circle cx="146.2" cy="21.6" r="1.6"/>
<circle cx="136.5" cy="24.3" r="1.6"/>
<circle cx="156.3" cy="18.6" r="1.6"/>
<circle cx="144.1" cy="31.5" r="1.6"/>
<circle cx="126.8" cy="27.5" r="1.6"/>
<circle cx="172.7" cy="33.3" r="1.6"/>
<circle cx="182.4" cy="30.6" r="1.6"/>
<circle cx="179.9" cy="40.4" r="1.6"/>
<circle cx="170.2" cy="43.1" r="1.6"/>
<circle cx="163.0" cy="36.0" r="1.6"/>
<circle cx="165.5" cy="26.2" r="1.6"/>
<circle cx="175.2" cy="23.5" r="1.6"/>
<circle cx="190.0" cy="37.4" r="1.6"/>
<circle cx="177.8" cy="50.3" r="1.6"/>
<circle cx="160.5" cy="46.3" r="1.6"/>
<circle cx="155.4" cy="29.2" r="1.6"/>
<circle cx="167.6" cy="16.3" r="1.6"/>
<circle cx="184.9" cy="20.3" r="1.6"/>
<circle cx="206.4" cy="52.1" r="1.6"/>
<circle cx="216.1" cy="49.4" r="1.6"/>
<circle cx="213.6" cy="59.2" r="1.6"/>
<circle cx="203.9" cy="61.9" r="1.6"/>
<circle cx="196.7" cy="54.8" r="1.6"/>
<circle cx="199.2" cy="45.0" r="1.6"/>
<circle cx="208.9" cy="42.3" r="1.6"/>
<circle cx="223.7" cy="56.2" r="1.6"/>
<circle cx="211.5" cy="69.1" r="1.6"/>
<circle cx="194.2" cy="65.1" r="1.6"/>
<circle cx="189.1" cy="48.0" r="1.6"/>
<circle cx="201.3" cy="35.1" r="1.6"/>
<circle cx="218.6" cy="39.1" r="1.6"/>
<circle cx="227.9" cy="83.9" r="1.6"/>
<circle cx="222.8" cy="66.8" r="1.6"/>
<circle cx="177.8" cy="12.7" r="1.6"/>
<circle cx="206.4" cy="14.5" r="1.6"/>
<circle cx="216.1" cy="11.8" r="1.6"/>
<circle cx="213.6" cy="21.6" r="1.6"/>
<circle cx="203.9" cy="24.3" r="1.6"/>
<circle cx="196.7" cy="17.2" r="1.6"/>
<circle cx="223.7" cy="18.6" r="1.6"/>
<circle cx="211.5" cy="31.5" r="1.6"/>
<circle cx="194.2" cy="27.5" r="1.6"/>
<circle cx="227.9" cy="46.3" r="1.6"/>
<circle cx="222.8" cy="29.2" r="1.6"/>
</g></g>
<circle cx="42.3" cy="50.3" r="3.0" fill="#c0171f"/>
<circle cx="75.2" cy="69.4" r="3.0" fill="#e84a30"/>
<circle cx="109.9" cy="50.8" r="3.0" fill="#f8a830"/>
<circle cx="124" cy="52.8" r="3.0" fill="#30b030"/>
<circle cx="138.5" cy="52.8" r="3.0" fill="#5ab0e2"/>
<circle cx="172.6" cy="70.4" r="3.0" fill="#2e3192"/>
<circle cx="205.9" cy="52.8" r="3.0" fill="#60109e"/>
<rect x="13.5" y="14.3" width="213.0" height="71.0" fill="none" stroke="#111" stroke-width="1.1"/>
<g clip-path="url(#clipb)">
<ellipse cx="76.3" cy="156.2" rx="19.5" ry="19.3" fill="#fdedd5"/>
<ellipse cx="139" cy="139.6" rx="19.2" ry="19.5" fill="#fad7d2"/>
</g>
<g clip-path="url(#clipb)">
<g stroke="#c4c4c4" stroke-width="1.1" fill="none">
<line x1="8.5" y1="156.4" x2="18.2" y2="153.7"/>
<line x1="18.2" y1="153.7" x2="15.7" y2="163.5"/>
<line x1="25.8" y1="160.5" x2="18.2" y2="153.7"/>
<line x1="25.8" y1="160.5" x2="15.7" y2="163.5"/>
<line x1="8.5" y1="156.4" x2="15.7" y2="163.5"/>
<line x1="15.7" y1="163.5" x2="6.0" y2="166.2"/>
<line x1="13.6" y1="173.4" x2="15.7" y2="163.5"/>
<line x1="13.6" y1="173.4" x2="6.0" y2="166.2"/>
<line x1="1.3" y1="149.3" x2="11.0" y2="146.6"/>
<line x1="3.4" y1="139.4" x2="11.0" y2="146.6"/>
<line x1="8.5" y1="156.4" x2="11.0" y2="146.6"/>
<line x1="11.0" y1="146.6" x2="18.2" y2="153.7"/>
<line x1="20.7" y1="143.4" x2="11.0" y2="146.6"/>
<line x1="20.7" y1="143.4" x2="18.2" y2="153.7"/>
<line x1="42.2" y1="175.2" x2="51.9" y2="172.5"/>
<line x1="51.9" y1="172.5" x2="49.4" y2="182.3"/>
<line x1="59.5" y1="179.3" x2="51.9" y2="172.5"/>
<line x1="42.2" y1="175.2" x2="49.4" y2="182.3"/>
<line x1="42.2" y1="175.2" x2="39.7" y2="185.0"/>
<line x1="42.2" y1="175.2" x2="32.5" y2="177.9"/>
<line x1="32.5" y1="177.9" x2="35.0" y2="168.1"/>
<line x1="24.9" y1="171.1" x2="32.5" y2="177.9"/>
<line x1="24.9" y1="171.1" x2="35.0" y2="168.1"/>
<line x1="42.2" y1="175.2" x2="35.0" y2="168.1"/>
<line x1="35.0" y1="168.1" x2="44.7" y2="165.4"/>
<line x1="37.1" y1="158.2" x2="35.0" y2="168.1"/>
<line x1="37.1" y1="158.2" x2="44.7" y2="165.4"/>
<line x1="42.2" y1="175.2" x2="44.7" y2="165.4"/>
<line x1="44.7" y1="165.4" x2="51.9" y2="172.5"/>
<line x1="54.4" y1="162.2" x2="44.7" y2="165.4"/>
<line x1="54.4" y1="162.2" x2="51.9" y2="172.5"/>
<line x1="8.5" y1="118.8" x2="18.2" y2="116.1"/>
<line x1="18.2" y1="116.1" x2="15.7" y2="125.9"/>
<line x1="25.8" y1="122.9" x2="18.2" y2="116.1"/>
<line x1="25.8" y1="122.9" x2="15.7" y2="125.9"/>
<line x1="8.5" y1="118.8" x2="15.7" y2="125.9"/>
<line x1="15.7" y1="125.9" x2="6.0" y2="128.6"/>
<line x1="13.6" y1="135.8" x2="15.7" y2="125.9"/>
<line x1="13.6" y1="135.8" x2="6.0" y2="128.6"/>
<line x1="1.3" y1="111.7" x2="11.0" y2="109.0"/>
<line x1="3.4" y1="101.8" x2="11.0" y2="109.0"/>
<line x1="8.5" y1="118.8" x2="11.0" y2="109.0"/>
<line x1="11.0" y1="109.0" x2="18.2" y2="116.1"/>
<line x1="20.7" y1="105.8" x2="11.0" y2="109.0"/>
<line x1="20.7" y1="105.8" x2="18.2" y2="116.1"/>
<line x1="42.2" y1="137.6" x2="51.9" y2="134.9"/>
<line x1="51.9" y1="134.9" x2="49.4" y2="144.7"/>
<line x1="59.5" y1="141.7" x2="51.9" y2="134.9"/>
<line x1="59.5" y1="141.7" x2="49.4" y2="144.7"/>
<line x1="42.2" y1="137.6" x2="49.4" y2="144.7"/>
<line x1="49.4" y1="144.7" x2="39.7" y2="147.4"/>
<line x1="47.3" y1="154.6" x2="49.4" y2="144.7"/>
<line x1="47.3" y1="154.6" x2="39.7" y2="147.4"/>
<line x1="42.2" y1="137.6" x2="39.7" y2="147.4"/>
<line x1="39.7" y1="147.4" x2="32.5" y2="140.3"/>
<line x1="30.0" y1="150.6" x2="39.7" y2="147.4"/>
<line x1="30.0" y1="150.6" x2="32.5" y2="140.3"/>
<line x1="42.2" y1="137.6" x2="32.5" y2="140.3"/>
<line x1="32.5" y1="140.3" x2="35.0" y2="130.5"/>
<line x1="24.9" y1="133.5" x2="32.5" y2="140.3"/>
<line x1="24.9" y1="133.5" x2="35.0" y2="130.5"/>
<line x1="42.2" y1="137.6" x2="35.0" y2="130.5"/>
<line x1="35.0" y1="130.5" x2="44.7" y2="127.8"/>
<line x1="37.1" y1="120.6" x2="35.0" y2="130.5"/>
<line x1="37.1" y1="120.6" x2="44.7" y2="127.8"/>
<line x1="42.2" y1="137.6" x2="44.7" y2="127.8"/>
<line x1="44.7" y1="127.8" x2="51.9" y2="134.9"/>
<line x1="54.4" y1="124.6" x2="44.7" y2="127.8"/>
<line x1="54.4" y1="124.6" x2="51.9" y2="134.9"/>
<line x1="75.9" y1="156.4" x2="85.6" y2="153.7"/>
<line x1="85.6" y1="153.7" x2="83.1" y2="163.5"/>
<line x1="93.2" y1="160.5" x2="85.6" y2="153.7"/>
<line x1="93.2" y1="160.5" x2="83.1" y2="163.5"/>
<line x1="75.9" y1="156.4" x2="83.1" y2="163.5"/>
<line x1="83.1" y1="163.5" x2="73.4" y2="166.2"/>
<line x1="81.0" y1="173.4" x2="83.1" y2="163.5"/>
<line x1="81.0" y1="173.4" x2="73.4" y2="166.2"/>
<line x1="75.9" y1="156.4" x2="73.4" y2="166.2"/>
<line x1="73.4" y1="166.2" x2="66.2" y2="159.1"/>
<line x1="63.7" y1="169.4" x2="73.4" y2="166.2"/>
<line x1="63.7" y1="169.4" x2="66.2" y2="159.1"/>
<line x1="75.9" y1="156.4" x2="66.2" y2="159.1"/>
<line x1="66.2" y1="159.1" x2="68.7" y2="149.3"/>
<line x1="58.6" y1="152.3" x2="66.2" y2="159.1"/>
<line x1="58.6" y1="152.3" x2="68.7" y2="149.3"/>
<line x1="75.9" y1="156.4" x2="68.7" y2="149.3"/>
<line x1="68.7" y1="149.3" x2="78.4" y2="146.6"/>
<line x1="70.8" y1="139.4" x2="68.7" y2="149.3"/>
<line x1="70.8" y1="139.4" x2="78.4" y2="146.6"/>
<line x1="75.9" y1="156.4" x2="78.4" y2="146.6"/>
<line x1="78.4" y1="146.6" x2="85.6" y2="153.7"/>
<line x1="42.2" y1="100.0" x2="51.9" y2="97.3"/>
<line x1="51.9" y1="97.3" x2="49.4" y2="107.1"/>
<line x1="59.5" y1="104.1" x2="51.9" y2="97.3"/>
<line x1="59.5" y1="104.1" x2="49.4" y2="107.1"/>
<line x1="42.2" y1="100.0" x2="49.4" y2="107.1"/>
<line x1="49.4" y1="107.1" x2="39.7" y2="109.8"/>
<line x1="47.3" y1="117.0" x2="49.4" y2="107.1"/>
<line x1="47.3" y1="117.0" x2="39.7" y2="109.8"/>
<line x1="42.2" y1="100.0" x2="39.7" y2="109.8"/>
<line x1="39.7" y1="109.8" x2="32.5" y2="102.7"/>
<line x1="30.0" y1="113.0" x2="39.7" y2="109.8"/>
<line x1="30.0" y1="113.0" x2="32.5" y2="102.7"/>
<line x1="42.2" y1="100.0" x2="32.5" y2="102.7"/>
<line x1="32.5" y1="102.7" x2="35.0" y2="92.9"/>
<line x1="24.9" y1="95.9" x2="32.5" y2="102.7"/>
<line x1="42.2" y1="100.0" x2="35.0" y2="92.9"/>
<line x1="42.2" y1="100.0" x2="44.7" y2="90.2"/>
<line x1="75.9" y1="118.8" x2="85.6" y2="116.1"/>
<line x1="85.6" y1="116.1" x2="83.1" y2="125.9"/>
<line x1="93.2" y1="122.9" x2="85.6" y2="116.1"/>
<line x1="93.2" y1="122.9" x2="83.1" y2="125.9"/>
<line x1="75.9" y1="118.8" x2="83.1" y2="125.9"/>
<line x1="83.1" y1="125.9" x2="73.4" y2="128.6"/>
<line x1="81.0" y1="135.8" x2="83.1" y2="125.9"/>
<line x1="81.0" y1="135.8" x2="73.4" y2="128.6"/>
<line x1="75.9" y1="118.8" x2="73.4" y2="128.6"/>
<line x1="73.4" y1="128.6" x2="66.2" y2="121.5"/>
<line x1="63.7" y1="131.8" x2="73.4" y2="128.6"/>
<line x1="63.7" y1="131.8" x2="66.2" y2="121.5"/>
<line x1="75.9" y1="118.8" x2="66.2" y2="121.5"/>
<line x1="66.2" y1="121.5" x2="68.7" y2="111.7"/>
<line x1="58.6" y1="114.7" x2="66.2" y2="121.5"/>
<line x1="58.6" y1="114.7" x2="68.7" y2="111.7"/>
<line x1="75.9" y1="118.8" x2="68.7" y2="111.7"/>
<line x1="68.7" y1="111.7" x2="78.4" y2="109.0"/>
<line x1="70.8" y1="101.8" x2="68.7" y2="111.7"/>
<line x1="70.8" y1="101.8" x2="78.4" y2="109.0"/>
<line x1="75.9" y1="118.8" x2="78.4" y2="109.0"/>
<line x1="78.4" y1="109.0" x2="85.6" y2="116.1"/>
<line x1="88.1" y1="105.8" x2="78.4" y2="109.0"/>
<line x1="88.1" y1="105.8" x2="85.6" y2="116.1"/>
<line x1="107.1" y1="110.9" x2="116.8" y2="108.2"/>
<line x1="116.8" y1="108.2" x2="114.3" y2="118.0"/>
<line x1="124.4" y1="115.0" x2="116.8" y2="108.2"/>
<line x1="124.4" y1="115.0" x2="114.3" y2="118.0"/>
<line x1="107.1" y1="110.9" x2="114.3" y2="118.0"/>
<line x1="114.3" y1="118.0" x2="104.6" y2="120.7"/>
<line x1="112.2" y1="127.9" x2="114.3" y2="118.0"/>
<line x1="112.2" y1="127.9" x2="104.6" y2="120.7"/>
<line x1="107.1" y1="110.9" x2="104.6" y2="120.7"/>
<line x1="104.6" y1="120.7" x2="97.4" y2="113.6"/>
<line x1="107.1" y1="110.9" x2="97.4" y2="113.6"/>
<line x1="97.4" y1="113.6" x2="99.9" y2="103.8"/>
<line x1="107.1" y1="110.9" x2="99.9" y2="103.8"/>
<line x1="99.9" y1="103.8" x2="109.6" y2="101.1"/>
<line x1="102.0" y1="93.9" x2="99.9" y2="103.8"/>
<line x1="102.0" y1="93.9" x2="109.6" y2="101.1"/>
<line x1="107.1" y1="110.9" x2="109.6" y2="101.1"/>
<line x1="109.6" y1="101.1" x2="116.8" y2="108.2"/>
<line x1="119.3" y1="97.9" x2="109.6" y2="101.1"/>
<line x1="119.3" y1="97.9" x2="116.8" y2="108.2"/>
<line x1="107.1" y1="148.5" x2="116.8" y2="145.8"/>
<line x1="116.8" y1="145.8" x2="114.3" y2="155.6"/>
<line x1="124.4" y1="152.6" x2="116.8" y2="145.8"/>
<line x1="124.4" y1="152.6" x2="114.3" y2="155.6"/>
<line x1="107.1" y1="148.5" x2="114.3" y2="155.6"/>
<line x1="114.3" y1="155.6" x2="104.6" y2="158.3"/>
<line x1="112.2" y1="165.5" x2="114.3" y2="155.6"/>
<line x1="112.2" y1="165.5" x2="104.6" y2="158.3"/>
<line x1="107.1" y1="148.5" x2="104.6" y2="158.3"/>
<line x1="104.6" y1="158.3" x2="97.4" y2="151.2"/>
<line x1="107.1" y1="148.5" x2="97.4" y2="151.2"/>
<line x1="97.4" y1="151.2" x2="99.9" y2="141.4"/>
<line x1="107.1" y1="148.5" x2="99.9" y2="141.4"/>
<line x1="99.9" y1="141.4" x2="109.6" y2="138.7"/>
<line x1="102.0" y1="131.5" x2="99.9" y2="141.4"/>
<line x1="102.0" y1="131.5" x2="109.6" y2="138.7"/>
<line x1="107.1" y1="148.5" x2="109.6" y2="138.7"/>
<line x1="109.6" y1="138.7" x2="116.8" y2="145.8"/>
<line x1="119.3" y1="135.5" x2="109.6" y2="138.7"/>
<line x1="119.3" y1="135.5" x2="116.8" y2="145.8"/>
<line x1="102.0" y1="169.1" x2="99.9" y2="179.0"/>
<line x1="102.0" y1="169.1" x2="109.6" y2="176.3"/>
<line x1="119.3" y1="173.1" x2="109.6" y2="176.3"/>
<line x1="119.3" y1="173.1" x2="116.8" y2="183.4"/>
<line x1="139.0" y1="177.2" x2="148.7" y2="174.5"/>
<line x1="148.7" y1="174.5" x2="146.2" y2="184.3"/>
<line x1="156.3" y1="181.3" x2="148.7" y2="174.5"/>
<line x1="129.3" y1="179.9" x2="131.8" y2="170.1"/>
<line x1="139.0" y1="177.2" x2="131.8" y2="170.1"/>
<line x1="131.8" y1="170.1" x2="141.5" y2="167.4"/>
<line x1="133.9" y1="160.2" x2="131.8" y2="170.1"/>
<line x1="133.9" y1="160.2" x2="141.5" y2="167.4"/>
<line x1="139.0" y1="177.2" x2="141.5" y2="167.4"/>
<line x1="141.5" y1="167.4" x2="148.7" y2="174.5"/>
<line x1="151.2" y1="164.2" x2="141.5" y2="167.4"/>
<line x1="151.2" y1="164.2" x2="148.7" y2="174.5"/>
<line x1="139.0" y1="139.6" x2="148.7" y2="136.9"/>
<line x1="148.7" y1="136.9" x2="146.2" y2="146.7"/>
<line x1="156.3" y1="143.7" x2="148.7" y2="136.9"/>
<line x1="156.3" y1="143.7" x2="146.2" y2="146.7"/>
<line x1="139.0" y1="139.6" x2="146.2" y2="146.7"/>
<line x1="146.2" y1="146.7" x2="136.5" y2="149.4"/>
<line x1="144.1" y1="156.6" x2="146.2" y2="146.7"/>
<line x1="144.1" y1="156.6" x2="136.5" y2="149.4"/>
<line x1="139.0" y1="139.6" x2="136.5" y2="149.4"/>
<line x1="136.5" y1="149.4" x2="129.3" y2="142.3"/>
<line x1="139.0" y1="139.6" x2="129.3" y2="142.3"/>
<line x1="129.3" y1="142.3" x2="131.8" y2="132.5"/>
<line x1="139.0" y1="139.6" x2="131.8" y2="132.5"/>
<line x1="131.8" y1="132.5" x2="141.5" y2="129.8"/>
<line x1="133.9" y1="122.6" x2="131.8" y2="132.5"/>
<line x1="133.9" y1="122.6" x2="141.5" y2="129.8"/>
<line x1="139.0" y1="139.6" x2="141.5" y2="129.8"/>
<line x1="141.5" y1="129.8" x2="148.7" y2="136.9"/>
<line x1="151.2" y1="126.6" x2="141.5" y2="129.8"/>
<line x1="151.2" y1="126.6" x2="148.7" y2="136.9"/>
<line x1="172.7" y1="158.4" x2="182.4" y2="155.7"/>
<line x1="182.4" y1="155.7" x2="179.9" y2="165.5"/>
<line x1="190.0" y1="162.5" x2="182.4" y2="155.7"/>
<line x1="190.0" y1="162.5" x2="179.9" y2="165.5"/>
<line x1="172.7" y1="158.4" x2="179.9" y2="165.5"/>
<line x1="179.9" y1="165.5" x2="170.2" y2="168.2"/>
<line x1="177.8" y1="175.4" x2="179.9" y2="165.5"/>
<line x1="177.8" y1="175.4" x2="170.2" y2="168.2"/>
<line x1="172.7" y1="158.4" x2="170.2" y2="168.2"/>
<line x1="170.2" y1="168.2" x2="163.0" y2="161.1"/>
<line x1="160.5" y1="171.4" x2="170.2" y2="168.2"/>
<line x1="160.5" y1="171.4" x2="163.0" y2="161.1"/>
<line x1="172.7" y1="158.4" x2="163.0" y2="161.1"/>
<line x1="163.0" y1="161.1" x2="165.5" y2="151.3"/>
<line x1="155.4" y1="154.3" x2="163.0" y2="161.1"/>
<line x1="155.4" y1="154.3" x2="165.5" y2="151.3"/>
<line x1="172.7" y1="158.4" x2="165.5" y2="151.3"/>
<line x1="165.5" y1="151.3" x2="175.2" y2="148.6"/>
<line x1="167.6" y1="141.4" x2="165.5" y2="151.3"/>
<line x1="167.6" y1="141.4" x2="175.2" y2="148.6"/>
<line x1="172.7" y1="158.4" x2="175.2" y2="148.6"/>
<line x1="175.2" y1="148.6" x2="182.4" y2="155.7"/>
<line x1="184.9" y1="145.4" x2="175.2" y2="148.6"/>
<line x1="184.9" y1="145.4" x2="182.4" y2="155.7"/>
<line x1="206.4" y1="177.2" x2="216.1" y2="174.5"/>
<line x1="216.1" y1="174.5" x2="213.6" y2="184.3"/>
<line x1="223.7" y1="181.3" x2="216.1" y2="174.5"/>
<line x1="196.7" y1="179.9" x2="199.2" y2="170.1"/>
<line x1="189.1" y1="173.1" x2="196.7" y2="179.9"/>
<line x1="189.1" y1="173.1" x2="199.2" y2="170.1"/>
<line x1="206.4" y1="177.2" x2="199.2" y2="170.1"/>
<line x1="199.2" y1="170.1" x2="208.9" y2="167.4"/>
<line x1="201.3" y1="160.2" x2="199.2" y2="170.1"/>
<line x1="201.3" y1="160.2" x2="208.9" y2="167.4"/>
<line x1="206.4" y1="177.2" x2="208.9" y2="167.4"/>
<line x1="208.9" y1="167.4" x2="216.1" y2="174.5"/>
<line x1="218.6" y1="164.2" x2="208.9" y2="167.4"/>
<line x1="218.6" y1="164.2" x2="216.1" y2="174.5"/>
<line x1="139.0" y1="102.0" x2="148.7" y2="99.3"/>
<line x1="148.7" y1="99.3" x2="146.2" y2="109.1"/>
<line x1="156.3" y1="106.1" x2="148.7" y2="99.3"/>
<line x1="156.3" y1="106.1" x2="146.2" y2="109.1"/>
<line x1="139.0" y1="102.0" x2="146.2" y2="109.1"/>
<line x1="146.2" y1="109.1" x2="136.5" y2="111.8"/>
<line x1="144.1" y1="119.0" x2="146.2" y2="109.1"/>
<line x1="144.1" y1="119.0" x2="136.5" y2="111.8"/>
<line x1="139.0" y1="102.0" x2="136.5" y2="111.8"/>
<line x1="136.5" y1="111.8" x2="129.3" y2="104.7"/>
<line x1="139.0" y1="102.0" x2="129.3" y2="104.7"/>
<line x1="129.3" y1="104.7" x2="131.8" y2="94.9"/>
<line x1="139.0" y1="102.0" x2="131.8" y2="94.9"/>
<line x1="139.0" y1="102.0" x2="141.5" y2="92.2"/>
<line x1="141.5" y1="92.2" x2="148.7" y2="99.3"/>
<line x1="151.2" y1="89.0" x2="148.7" y2="99.3"/>
<line x1="172.7" y1="120.8" x2="182.4" y2="118.1"/>
<line x1="182.4" y1="118.1" x2="179.9" y2="127.9"/>
<line x1="190.0" y1="124.9" x2="182.4" y2="118.1"/>
<line x1="190.0" y1="124.9" x2="179.9" y2="127.9"/>
<line x1="172.7" y1="120.8" x2="179.9" y2="127.9"/>
<line x1="179.9" y1="127.9" x2="170.2" y2="130.6"/>
<line x1="177.8" y1="137.8" x2="179.9" y2="127.9"/>
<line x1="177.8" y1="137.8" x2="170.2" y2="130.6"/>
<line x1="172.7" y1="120.8" x2="170.2" y2="130.6"/>
<line x1="170.2" y1="130.6" x2="163.0" y2="123.5"/>
<line x1="160.5" y1="133.8" x2="170.2" y2="130.6"/>
<line x1="160.5" y1="133.8" x2="163.0" y2="123.5"/>
<line x1="172.7" y1="120.8" x2="163.0" y2="123.5"/>
<line x1="163.0" y1="123.5" x2="165.5" y2="113.7"/>
<line x1="155.4" y1="116.7" x2="163.0" y2="123.5"/>
<line x1="155.4" y1="116.7" x2="165.5" y2="113.7"/>
<line x1="172.7" y1="120.8" x2="165.5" y2="113.7"/>
<line x1="165.5" y1="113.7" x2="175.2" y2="111.0"/>
<line x1="167.6" y1="103.8" x2="165.5" y2="113.7"/>
<line x1="167.6" y1="103.8" x2="175.2" y2="111.0"/>
<line x1="172.7" y1="120.8" x2="175.2" y2="111.0"/>
<line x1="175.2" y1="111.0" x2="182.4" y2="118.1"/>
<line x1="184.9" y1="107.8" x2="175.2" y2="111.0"/>
<line x1="184.9" y1="107.8" x2="182.4" y2="118.1"/>
<line x1="206.4" y1="139.6" x2="216.1" y2="136.9"/>
<line x1="216.1" y1="136.9" x2="213.6" y2="146.7"/>
<line x1="223.7" y1="143.7" x2="216.1" y2="136.9"/>
<line x1="223.7" y1="143.7" x2="213.6" y2="146.7"/>
<line x1="206.4" y1="139.6" x2="213.6" y2="146.7"/>
<line x1="213.6" y1="146.7" x2="203.9" y2="149.4"/>
<line x1="211.5" y1="156.6" x2="213.6" y2="146.7"/>
<line x1="211.5" y1="156.6" x2="203.9" y2="149.4"/>
<line x1="206.4" y1="139.6" x2="203.9" y2="149.4"/>
<line x1="203.9" y1="149.4" x2="196.7" y2="142.3"/>
<line x1="194.2" y1="152.6" x2="203.9" y2="149.4"/>
<line x1="194.2" y1="152.6" x2="196.7" y2="142.3"/>
<line x1="206.4" y1="139.6" x2="196.7" y2="142.3"/>
<line x1="196.7" y1="142.3" x2="199.2" y2="132.5"/>
<line x1="189.1" y1="135.5" x2="196.7" y2="142.3"/>
<line x1="189.1" y1="135.5" x2="199.2" y2="132.5"/>
<line x1="206.4" y1="139.6" x2="199.2" y2="132.5"/>
<line x1="199.2" y1="132.5" x2="208.9" y2="129.8"/>
<line x1="201.3" y1="122.6" x2="199.2" y2="132.5"/>
<line x1="201.3" y1="122.6" x2="208.9" y2="129.8"/>
<line x1="206.4" y1="139.6" x2="208.9" y2="129.8"/>
<line x1="208.9" y1="129.8" x2="216.1" y2="136.9"/>
<line x1="218.6" y1="126.6" x2="208.9" y2="129.8"/>
<line x1="218.6" y1="126.6" x2="216.1" y2="136.9"/>
<line x1="227.9" y1="171.4" x2="237.6" y2="168.2"/>
<line x1="227.9" y1="171.4" x2="230.4" y2="161.1"/>
<line x1="222.8" y1="154.3" x2="230.4" y2="161.1"/>
<line x1="222.8" y1="154.3" x2="232.9" y2="151.3"/>
<line x1="177.8" y1="100.2" x2="179.9" y2="90.3"/>
<line x1="177.8" y1="100.2" x2="170.2" y2="93.0"/>
<line x1="206.4" y1="102.0" x2="216.1" y2="99.3"/>
<line x1="216.1" y1="99.3" x2="213.6" y2="109.1"/>
<line x1="223.7" y1="106.1" x2="216.1" y2="99.3"/>
<line x1="223.7" y1="106.1" x2="213.6" y2="109.1"/>
<line x1="206.4" y1="102.0" x2="213.6" y2="109.1"/>
<line x1="213.6" y1="109.1" x2="203.9" y2="111.8"/>
<line x1="211.5" y1="119.0" x2="213.6" y2="109.1"/>
<line x1="211.5" y1="119.0" x2="203.9" y2="111.8"/>
<line x1="206.4" y1="102.0" x2="203.9" y2="111.8"/>
<line x1="203.9" y1="111.8" x2="196.7" y2="104.7"/>
<line x1="194.2" y1="115.0" x2="203.9" y2="111.8"/>
<line x1="194.2" y1="115.0" x2="196.7" y2="104.7"/>
<line x1="206.4" y1="102.0" x2="196.7" y2="104.7"/>
<line x1="196.7" y1="104.7" x2="199.2" y2="94.9"/>
<line x1="189.1" y1="97.9" x2="196.7" y2="104.7"/>
<line x1="206.4" y1="102.0" x2="199.2" y2="94.9"/>
<line x1="206.4" y1="102.0" x2="208.9" y2="92.2"/>
<line x1="208.9" y1="92.2" x2="216.1" y2="99.3"/>
<line x1="218.6" y1="89.0" x2="216.1" y2="99.3"/>
<line x1="227.9" y1="133.8" x2="237.6" y2="130.6"/>
<line x1="227.9" y1="133.8" x2="230.4" y2="123.5"/>
<line x1="222.8" y1="116.7" x2="230.4" y2="123.5"/>
<line x1="222.8" y1="116.7" x2="232.9" y2="113.7"/>
<line x1="91.8" y1="133.3" x2="102.0" y2="131.5"/>
<line x1="102.0" y1="131.5" x2="112.2" y2="127.9"/>
<line x1="112.2" y1="127.9" x2="122.6" y2="125.0"/>
</g>
<g fill="url(#atomg)" stroke="#b04ecc" stroke-width="0.75">
<circle cx="88.6" cy="143.9" r="1.6"/>
<circle cx="91.8" cy="133.3" r="1.6"/>
<circle cx="122.6" cy="125.0" r="1.6"/>
<circle cx="18.2" cy="153.7" r="1.6"/>
<circle cx="15.7" cy="163.5" r="1.6"/>
<circle cx="11.0" cy="146.6" r="1.6"/>
<circle cx="25.8" cy="160.5" r="1.6"/>
<circle cx="13.6" cy="173.4" r="1.6"/>
<circle cx="20.7" cy="143.4" r="1.6"/>
<circle cx="42.2" cy="175.2" r="1.6"/>
<circle cx="51.9" cy="172.5" r="1.6"/>
<circle cx="35.0" cy="168.1" r="1.6"/>
<circle cx="44.7" cy="165.4" r="1.6"/>
<circle cx="24.9" cy="171.1" r="1.6"/>
<circle cx="37.1" cy="158.2" r="1.6"/>
<circle cx="54.4" cy="162.2" r="1.6"/>
<circle cx="18.2" cy="116.1" r="1.6"/>
<circle cx="15.7" cy="125.9" r="1.6"/>
<circle cx="11.0" cy="109.0" r="1.6"/>
<circle cx="25.8" cy="122.9" r="1.6"/>
<circle cx="13.6" cy="135.8" r="1.6"/>
<circle cx="20.7" cy="105.8" r="1.6"/>
<circle cx="42.2" cy="137.6" r="1.6"/>
<circle cx="51.9" cy="134.9" r="1.6"/>
<circle cx="49.4" cy="144.7" r="1.6"/>
<circle cx="39.7" cy="147.4" r="1.6"/>
<circle cx="32.5" cy="140.3" r="1.6"/>
<circle cx="35.0" cy="130.5" r="1.6"/>
<circle cx="44.7" cy="127.8" r="1.6"/>
<circle cx="59.5" cy="141.7" r="1.6"/>
<circle cx="47.3" cy="154.6" r="1.6"/>
<circle cx="30.0" cy="150.6" r="1.6"/>
<circle cx="24.9" cy="133.5" r="1.6"/>
<circle cx="37.1" cy="120.6" r="1.6"/>
<circle cx="54.4" cy="124.6" r="1.6"/>
<circle cx="75.9" cy="156.4" r="1.6"/>
<circle cx="85.6" cy="153.7" r="1.6"/>
<circle cx="83.1" cy="163.5" r="1.6"/>
<circle cx="73.4" cy="166.2" r="1.6"/>
<circle cx="66.2" cy="159.1" r="1.6"/>
<circle cx="68.7" cy="149.3" r="1.6"/>
<circle cx="78.4" cy="146.6" r="1.6"/>
<circle cx="93.2" cy="160.5" r="1.6"/>
<circle cx="81.0" cy="173.4" r="1.6"/>
<circle cx="63.7" cy="169.4" r="1.6"/>
<circle cx="58.6" cy="152.3" r="1.6"/>
<circle cx="70.8" cy="139.4" r="1.6"/>
<circle cx="42.2" cy="100.0" r="1.6"/>
<circle cx="49.4" cy="107.1" r="1.6"/>
<circle cx="39.7" cy="109.8" r="1.6"/>
<circle cx="32.5" cy="102.7" r="1.6"/>
<circle cx="59.5" cy="104.1" r="1.6"/>
<circle cx="47.3" cy="117.0" r="1.6"/>
<circle cx="30.0" cy="113.0" r="1.6"/>
<circle cx="75.9" cy="118.8" r="1.6"/>
<circle cx="85.6" cy="116.1" r="1.6"/>
<circle cx="83.1" cy="125.9" r="1.6"/>
<circle cx="73.4" cy="128.6" r="1.6"/>
<circle cx="66.2" cy="121.5" r="1.6"/>
<circle cx="68.7" cy="111.7" r="1.6"/>
<circle cx="78.4" cy="109.0" r="1.6"/>
<circle cx="93.2" cy="122.9" r="1.6"/>
<circle cx="81.0" cy="135.8" r="1.6"/>
<circle cx="63.7" cy="131.8" r="1.6"/>
<circle cx="58.6" cy="114.7" r="1.6"/>
<circle cx="70.8" cy="101.8" r="1.6"/>
<circle cx="88.1" cy="105.8" r="1.6"/>
<circle cx="107.1" cy="110.9" r="1.6"/>
<circle cx="116.8" cy="108.2" r="1.6"/>
<circle cx="114.3" cy="118.0" r="1.6"/>
<circle cx="104.6" cy="120.7" r="1.6"/>
<circle cx="97.4" cy="113.6" r="1.6"/>
<circle cx="99.9" cy="103.8" r="1.6"/>
<circle cx="109.6" cy="101.1" r="1.6"/>
<circle cx="124.4" cy="115.0" r="1.6"/>
<circle cx="112.2" cy="127.9" r="1.6"/>
<circle cx="107.1" cy="148.5" r="1.6"/>
<circle cx="116.8" cy="145.8" r="1.6"/>
<circle cx="114.3" cy="155.6" r="1.6"/>
<circle cx="104.6" cy="158.3" r="1.6"/>
<circle cx="97.4" cy="151.2" r="1.6"/>
<circle cx="99.9" cy="141.4" r="1.6"/>
<circle cx="109.6" cy="138.7" r="1.6"/>
<circle cx="124.4" cy="152.6" r="1.6"/>
<circle cx="112.2" cy="165.5" r="1.6"/>
<circle cx="102.0" cy="131.5" r="1.6"/>
<circle cx="119.3" cy="135.5" r="1.6"/>
<circle cx="102.0" cy="169.1" r="1.6"/>
<circle cx="119.3" cy="173.1" r="1.6"/>
<circle cx="148.7" cy="174.5" r="1.6"/>
<circle cx="131.8" cy="170.1" r="1.6"/>
<circle cx="141.5" cy="167.4" r="1.6"/>
<circle cx="133.9" cy="160.2" r="1.6"/>
<circle cx="151.2" cy="164.2" r="1.6"/>
<circle cx="139.0" cy="139.6" r="1.6"/>
<circle cx="148.7" cy="136.9" r="1.6"/>
<circle cx="146.2" cy="146.7" r="1.6"/>
<circle cx="136.5" cy="149.4" r="1.6"/>
<circle cx="129.3" cy="142.3" r="1.6"/>
<circle cx="131.8" cy="132.5" r="1.6"/>
<circle cx="141.5" cy="129.8" r="1.6"/>
<circle cx="156.3" cy="143.7" r="1.6"/>
<circle cx="144.1" cy="156.6" r="1.6"/>
<circle cx="133.9" cy="122.6" r="1.6"/>
<circle cx="151.2" cy="126.6" r="1.6"/>
<circle cx="172.7" cy="158.4" r="1.6"/>
<circle cx="182.4" cy="155.7" r="1.6"/>
<circle cx="179.9" cy="165.5" r="1.6"/>
<circle cx="170.2" cy="168.2" r="1.6"/>
<circle cx="163.0" cy="161.1" r="1.6"/>
<circle cx="165.5" cy="151.3" r="1.6"/>
<circle cx="175.2" cy="148.6" r="1.6"/>
<circle cx="190.0" cy="162.5" r="1.6"/>
<circle cx="160.5" cy="171.4" r="1.6"/>
<circle cx="155.4" cy="154.3" r="1.6"/>
<circle cx="167.6" cy="141.4" r="1.6"/>
<circle cx="184.9" cy="145.4" r="1.6"/>
<circle cx="216.1" cy="174.5" r="1.6"/>
<circle cx="199.2" cy="170.1" r="1.6"/>
<circle cx="208.9" cy="167.4" r="1.6"/>
<circle cx="189.1" cy="173.1" r="1.6"/>
<circle cx="201.3" cy="160.2" r="1.6"/>
<circle cx="218.6" cy="164.2" r="1.6"/>
<circle cx="139.0" cy="102.0" r="1.6"/>
<circle cx="148.7" cy="99.3" r="1.6"/>
<circle cx="146.2" cy="109.1" r="1.6"/>
<circle cx="136.5" cy="111.8" r="1.6"/>
<circle cx="129.3" cy="104.7" r="1.6"/>
<circle cx="156.3" cy="106.1" r="1.6"/>
<circle cx="144.1" cy="119.0" r="1.6"/>
<circle cx="172.7" cy="120.8" r="1.6"/>
<circle cx="182.4" cy="118.1" r="1.6"/>
<circle cx="179.9" cy="127.9" r="1.6"/>
<circle cx="170.2" cy="130.6" r="1.6"/>
<circle cx="163.0" cy="123.5" r="1.6"/>
<circle cx="165.5" cy="113.7" r="1.6"/>
<circle cx="175.2" cy="111.0" r="1.6"/>
<circle cx="190.0" cy="124.9" r="1.6"/>
<circle cx="177.8" cy="137.8" r="1.6"/>
<circle cx="160.5" cy="133.8" r="1.6"/>
<circle cx="155.4" cy="116.7" r="1.6"/>
<circle cx="167.6" cy="103.8" r="1.6"/>
<circle cx="184.9" cy="107.8" r="1.6"/>
<circle cx="206.4" cy="139.6" r="1.6"/>
<circle cx="216.1" cy="136.9" r="1.6"/>
<circle cx="213.6" cy="146.7" r="1.6"/>
<circle cx="203.9" cy="149.4" r="1.6"/>
<circle cx="196.7" cy="142.3" r="1.6"/>
<circle cx="199.2" cy="132.5" r="1.6"/>
<circle cx="208.9" cy="129.8" r="1.6"/>
<circle cx="223.7" cy="143.7" r="1.6"/>
<circle cx="211.5" cy="156.6" r="1.6"/>
<circle cx="194.2" cy="152.6" r="1.6"/>
<circle cx="189.1" cy="135.5" r="1.6"/>
<circle cx="201.3" cy="122.6" r="1.6"/>
<circle cx="218.6" cy="126.6" r="1.6"/>
<circle cx="227.9" cy="171.4" r="1.6"/>
<circle cx="222.8" cy="154.3" r="1.6"/>
<circle cx="177.8" cy="100.2" r="1.6"/>
<circle cx="206.4" cy="102.0" r="1.6"/>
<circle cx="216.1" cy="99.3" r="1.6"/>
<circle cx="213.6" cy="109.1" r="1.6"/>
<circle cx="203.9" cy="111.8" r="1.6"/>
<circle cx="196.7" cy="104.7" r="1.6"/>
<circle cx="223.7" cy="106.1" r="1.6"/>
<circle cx="211.5" cy="119.0" r="1.6"/>
<circle cx="194.2" cy="115.0" r="1.6"/>
<circle cx="227.9" cy="133.8" r="1.6"/>
<circle cx="222.8" cy="116.7" r="1.6"/>
</g></g>
<ellipse cx="108.3" cy="129.1" rx="22.4" ry="4.6" transform="rotate(-15 108.3 129.1)" fill="none" stroke="#000" stroke-width="1.5"/>
<circle cx="108" cy="148.8" r="12.9" fill="none" stroke="#000" stroke-width="2.0" stroke-dasharray="1.5 1.45"/>
<circle cx="42" cy="137.8" r="3.0" fill="#c0171f"/>
<circle cx="76.6" cy="157" r="3.0" fill="#e84a30"/>
<circle cx="94.8" cy="144.9" r="3.0" fill="#f8a830"/>
<circle cx="107.1" cy="148.0" r="3.0" fill="#30b030"/>
<circle cx="116.0" cy="139.4" r="3.0" fill="#5ab0e2"/>
<circle cx="138.7" cy="139.3" r="3.0" fill="#2e3192"/>
<circle cx="172.6" cy="158.8" r="3.0" fill="#60109e"/>
<path d="M13.5,101.6 L13.5,172.4 L226.5,172.4 L226.5,101.6" fill="none" stroke="#1a1a1a" stroke-width="1.1"/>
<line x1="13.0" y1="101.6" x2="227.0" y2="101.6" stroke="#6a6a6a" stroke-width="1.2"/>
<rect x="12.5" y="189.3" width="214.0" height="71.19999999999999" fill="#e4e354"/>
<g clip-path="url(#clipc)">
<g filter="url(#blur2)">
<ellipse cx="107.3" cy="198.9" rx="16.5" ry="18" fill="#e2b063"/>
<ellipse cx="117.5" cy="210.4" rx="6" ry="5" fill="#e2b063"/>
<ellipse cx="94.5" cy="195.4" rx="5" ry="6" fill="#e2b063"/>
<ellipse cx="107.5" cy="198.4" rx="13.5" ry="15" fill="#c4b470"/>
<ellipse cx="107.3" cy="236.5" rx="16.5" ry="18" fill="#e2b063"/>
<ellipse cx="117.5" cy="248.0" rx="6" ry="5" fill="#e2b063"/>
<ellipse cx="94.5" cy="233.0" rx="5" ry="6" fill="#e2b063"/>
<ellipse cx="107.5" cy="236.0" rx="13.5" ry="15" fill="#c4b470"/>
<ellipse cx="107.3" cy="161.3" rx="16.5" ry="18" fill="#e2b063"/>
<ellipse cx="117.5" cy="172.8" rx="6" ry="5" fill="#e2b063"/>
<ellipse cx="94.5" cy="157.8" rx="5" ry="6" fill="#e2b063"/>
<ellipse cx="107.5" cy="160.8" rx="13.5" ry="15" fill="#c4b470"/>
</g>
<g filter="url(#blur1)">
<ellipse cx="107.5" cy="198.9" rx="11.5" ry="13" fill="#8cc496"/>
<ellipse cx="108.0" cy="198.4" rx="9" ry="10" fill="#70b8aa"/>
<ellipse cx="108.5" cy="197.4" rx="5.8" ry="6.8" fill="#5e98cc"/>
<ellipse cx="105.5" cy="192.6" rx="3.2" ry="3.4" fill="#2c3aa6"/>
<ellipse cx="112.5" cy="200.20000000000002" rx="3.0" ry="3.2" fill="#3444ae"/>
<ellipse cx="107.5" cy="236.5" rx="11.5" ry="13" fill="#8cc496"/>
<ellipse cx="108.0" cy="236.0" rx="9" ry="10" fill="#70b8aa"/>
<ellipse cx="108.5" cy="235.0" rx="5.8" ry="6.8" fill="#5e98cc"/>
<ellipse cx="105.5" cy="230.2" rx="3.2" ry="3.4" fill="#2c3aa6"/>
<ellipse cx="112.5" cy="237.8" rx="3.0" ry="3.2" fill="#3444ae"/>
<ellipse cx="107.5" cy="161.3" rx="11.5" ry="13" fill="#8cc496"/>
<ellipse cx="108.0" cy="160.8" rx="9" ry="10" fill="#70b8aa"/>
<ellipse cx="108.5" cy="159.8" rx="5.8" ry="6.8" fill="#5e98cc"/>
<ellipse cx="105.5" cy="155.0" rx="3.2" ry="3.4" fill="#2c3aa6"/>
<ellipse cx="112.5" cy="162.60000000000002" rx="3.0" ry="3.2" fill="#3444ae"/>
<ellipse cx="137" cy="196" rx="6" ry="5" fill="#e4c35c" opacity="0.8"/>
<ellipse cx="138" cy="234" rx="6" ry="5" fill="#e4c35c" opacity="0.8"/>
<ellipse cx="88" cy="192" rx="6" ry="5" fill="#e4c35c" opacity="0.8"/>
</g>
</g>
<g clip-path="url(#clipc)">
<g stroke="#a6a8c0" stroke-width="1.0" fill="none">
<line x1="7.2" y1="244.1" x2="16.9" y2="241.4"/>
<line x1="16.9" y1="241.4" x2="14.4" y2="251.2"/>
<line x1="24.5" y1="248.2" x2="16.9" y2="241.4"/>
<line x1="24.5" y1="248.2" x2="14.4" y2="251.2"/>
<line x1="7.2" y1="244.1" x2="14.4" y2="251.2"/>
<line x1="14.4" y1="251.2" x2="4.7" y2="253.9"/>
<line x1="12.3" y1="261.1" x2="14.4" y2="251.2"/>
<line x1="12.3" y1="261.1" x2="4.7" y2="253.9"/>
<line x1="-0.0" y1="237.0" x2="9.7" y2="234.3"/>
<line x1="2.1" y1="227.1" x2="9.7" y2="234.3"/>
<line x1="7.2" y1="244.1" x2="9.7" y2="234.3"/>
<line x1="9.7" y1="234.3" x2="16.9" y2="241.4"/>
<line x1="19.4" y1="231.1" x2="9.7" y2="234.3"/>
<line x1="19.4" y1="231.1" x2="16.9" y2="241.4"/>
<line x1="40.9" y1="262.9" x2="50.6" y2="260.2"/>
<line x1="50.6" y1="260.2" x2="48.1" y2="270.0"/>
<line x1="58.2" y1="267.0" x2="50.6" y2="260.2"/>
<line x1="40.9" y1="262.9" x2="48.1" y2="270.0"/>
<line x1="40.9" y1="262.9" x2="38.4" y2="272.7"/>
<line x1="40.9" y1="262.9" x2="31.2" y2="265.6"/>
<line x1="31.2" y1="265.6" x2="33.7" y2="255.8"/>
<line x1="23.6" y1="258.8" x2="31.2" y2="265.6"/>
<line x1="23.6" y1="258.8" x2="33.7" y2="255.8"/>
<line x1="40.9" y1="262.9" x2="33.7" y2="255.8"/>
<line x1="33.7" y1="255.8" x2="43.4" y2="253.1"/>
<line x1="35.8" y1="245.9" x2="33.7" y2="255.8"/>
<line x1="35.8" y1="245.9" x2="43.4" y2="253.1"/>
<line x1="40.9" y1="262.9" x2="43.4" y2="253.1"/>
<line x1="43.4" y1="253.1" x2="50.6" y2="260.2"/>
<line x1="53.1" y1="249.9" x2="43.4" y2="253.1"/>
<line x1="53.1" y1="249.9" x2="50.6" y2="260.2"/>
<line x1="7.2" y1="206.5" x2="16.9" y2="203.8"/>
<line x1="16.9" y1="203.8" x2="14.4" y2="213.6"/>
<line x1="24.5" y1="210.6" x2="16.9" y2="203.8"/>
<line x1="24.5" y1="210.6" x2="14.4" y2="213.6"/>
<line x1="7.2" y1="206.5" x2="14.4" y2="213.6"/>
<line x1="14.4" y1="213.6" x2="4.7" y2="216.3"/>
<line x1="12.3" y1="223.5" x2="14.4" y2="213.6"/>
<line x1="12.3" y1="223.5" x2="4.7" y2="216.3"/>
<line x1="-0.0" y1="199.4" x2="9.7" y2="196.7"/>
<line x1="2.1" y1="189.5" x2="9.7" y2="196.7"/>
<line x1="7.2" y1="206.5" x2="9.7" y2="196.7"/>
<line x1="9.7" y1="196.7" x2="16.9" y2="203.8"/>
<line x1="19.4" y1="193.5" x2="9.7" y2="196.7"/>
<line x1="19.4" y1="193.5" x2="16.9" y2="203.8"/>
<line x1="40.9" y1="225.3" x2="50.6" y2="222.6"/>
<line x1="50.6" y1="222.6" x2="48.1" y2="232.4"/>
<line x1="58.2" y1="229.4" x2="50.6" y2="222.6"/>
<line x1="58.2" y1="229.4" x2="48.1" y2="232.4"/>
<line x1="40.9" y1="225.3" x2="48.1" y2="232.4"/>
<line x1="48.1" y1="232.4" x2="38.4" y2="235.1"/>
<line x1="46.0" y1="242.3" x2="48.1" y2="232.4"/>
<line x1="46.0" y1="242.3" x2="38.4" y2="235.1"/>
<line x1="40.9" y1="225.3" x2="38.4" y2="235.1"/>
<line x1="38.4" y1="235.1" x2="31.2" y2="228.0"/>
<line x1="28.7" y1="238.3" x2="38.4" y2="235.1"/>
<line x1="28.7" y1="238.3" x2="31.2" y2="228.0"/>
<line x1="40.9" y1="225.3" x2="31.2" y2="228.0"/>
<line x1="31.2" y1="228.0" x2="33.7" y2="218.2"/>
<line x1="23.6" y1="221.2" x2="31.2" y2="228.0"/>
<line x1="23.6" y1="221.2" x2="33.7" y2="218.2"/>
<line x1="40.9" y1="225.3" x2="33.7" y2="218.2"/>
<line x1="33.7" y1="218.2" x2="43.4" y2="215.5"/>
<line x1="35.8" y1="208.3" x2="33.7" y2="218.2"/>
<line x1="35.8" y1="208.3" x2="43.4" y2="215.5"/>
<line x1="40.9" y1="225.3" x2="43.4" y2="215.5"/>
<line x1="43.4" y1="215.5" x2="50.6" y2="222.6"/>
<line x1="53.1" y1="212.3" x2="43.4" y2="215.5"/>
<line x1="53.1" y1="212.3" x2="50.6" y2="222.6"/>
<line x1="74.6" y1="244.1" x2="84.3" y2="241.4"/>
<line x1="84.3" y1="241.4" x2="81.8" y2="251.2"/>
<line x1="91.9" y1="248.2" x2="84.3" y2="241.4"/>
<line x1="91.9" y1="248.2" x2="81.8" y2="251.2"/>
<line x1="74.6" y1="244.1" x2="81.8" y2="251.2"/>
<line x1="81.8" y1="251.2" x2="72.1" y2="253.9"/>
<line x1="79.7" y1="261.1" x2="81.8" y2="251.2"/>
<line x1="79.7" y1="261.1" x2="72.1" y2="253.9"/>
<line x1="74.6" y1="244.1" x2="72.1" y2="253.9"/>
<line x1="72.1" y1="253.9" x2="64.9" y2="246.8"/>
<line x1="62.4" y1="257.1" x2="72.1" y2="253.9"/>
<line x1="62.4" y1="257.1" x2="64.9" y2="246.8"/>
<line x1="74.6" y1="244.1" x2="64.9" y2="246.8"/>
<line x1="64.9" y1="246.8" x2="67.4" y2="237.0"/>
<line x1="57.3" y1="240.0" x2="64.9" y2="246.8"/>
<line x1="57.3" y1="240.0" x2="67.4" y2="237.0"/>
<line x1="74.6" y1="244.1" x2="67.4" y2="237.0"/>
<line x1="67.4" y1="237.0" x2="77.1" y2="234.3"/>
<line x1="69.5" y1="227.1" x2="67.4" y2="237.0"/>
<line x1="69.5" y1="227.1" x2="77.1" y2="234.3"/>
<line x1="74.6" y1="244.1" x2="77.1" y2="234.3"/>
<line x1="77.1" y1="234.3" x2="84.3" y2="241.4"/>
<line x1="40.9" y1="187.7" x2="50.6" y2="185.0"/>
<line x1="50.6" y1="185.0" x2="48.1" y2="194.8"/>
<line x1="58.2" y1="191.8" x2="50.6" y2="185.0"/>
<line x1="58.2" y1="191.8" x2="48.1" y2="194.8"/>
<line x1="40.9" y1="187.7" x2="48.1" y2="194.8"/>
<line x1="48.1" y1="194.8" x2="38.4" y2="197.5"/>
<line x1="46.0" y1="204.7" x2="48.1" y2="194.8"/>
<line x1="46.0" y1="204.7" x2="38.4" y2="197.5"/>
<line x1="40.9" y1="187.7" x2="38.4" y2="197.5"/>
<line x1="38.4" y1="197.5" x2="31.2" y2="190.4"/>
<line x1="28.7" y1="200.7" x2="38.4" y2="197.5"/>
<line x1="28.7" y1="200.7" x2="31.2" y2="190.4"/>
<line x1="40.9" y1="187.7" x2="31.2" y2="190.4"/>
<line x1="31.2" y1="190.4" x2="33.7" y2="180.6"/>
<line x1="23.6" y1="183.6" x2="31.2" y2="190.4"/>
<line x1="40.9" y1="187.7" x2="33.7" y2="180.6"/>
<line x1="40.9" y1="187.7" x2="43.4" y2="177.9"/>
<line x1="74.6" y1="206.5" x2="84.3" y2="203.8"/>
<line x1="84.3" y1="203.8" x2="81.8" y2="213.6"/>
<line x1="91.9" y1="210.6" x2="84.3" y2="203.8"/>
<line x1="91.9" y1="210.6" x2="81.8" y2="213.6"/>
<line x1="74.6" y1="206.5" x2="81.8" y2="213.6"/>
<line x1="81.8" y1="213.6" x2="72.1" y2="216.3"/>
<line x1="79.7" y1="223.5" x2="81.8" y2="213.6"/>
<line x1="79.7" y1="223.5" x2="72.1" y2="216.3"/>
<line x1="74.6" y1="206.5" x2="72.1" y2="216.3"/>
<line x1="72.1" y1="216.3" x2="64.9" y2="209.2"/>
<line x1="62.4" y1="219.5" x2="72.1" y2="216.3"/>
<line x1="62.4" y1="219.5" x2="64.9" y2="209.2"/>
<line x1="74.6" y1="206.5" x2="64.9" y2="209.2"/>
<line x1="64.9" y1="209.2" x2="67.4" y2="199.4"/>
<line x1="57.3" y1="202.4" x2="64.9" y2="209.2"/>
<line x1="57.3" y1="202.4" x2="67.4" y2="199.4"/>
<line x1="74.6" y1="206.5" x2="67.4" y2="199.4"/>
<line x1="67.4" y1="199.4" x2="77.1" y2="196.7"/>
<line x1="69.5" y1="189.5" x2="67.4" y2="199.4"/>
<line x1="69.5" y1="189.5" x2="77.1" y2="196.7"/>
<line x1="74.6" y1="206.5" x2="77.1" y2="196.7"/>
<line x1="77.1" y1="196.7" x2="84.3" y2="203.8"/>
<line x1="86.8" y1="193.5" x2="77.1" y2="196.7"/>
<line x1="86.8" y1="193.5" x2="84.3" y2="203.8"/>
<line x1="106.5" y1="198.6" x2="116.2" y2="195.9"/>
<line x1="116.2" y1="195.9" x2="113.7" y2="205.7"/>
<line x1="123.8" y1="202.7" x2="116.2" y2="195.9"/>
<line x1="123.8" y1="202.7" x2="113.7" y2="205.7"/>
<line x1="106.5" y1="198.6" x2="113.7" y2="205.7"/>
<line x1="113.7" y1="205.7" x2="104.0" y2="208.4"/>
<line x1="111.6" y1="215.6" x2="113.7" y2="205.7"/>
<line x1="111.6" y1="215.6" x2="104.0" y2="208.4"/>
<line x1="106.5" y1="198.6" x2="104.0" y2="208.4"/>
<line x1="104.0" y1="208.4" x2="96.8" y2="201.3"/>
<line x1="106.5" y1="198.6" x2="96.8" y2="201.3"/>
<line x1="96.8" y1="201.3" x2="99.3" y2="191.5"/>
<line x1="106.5" y1="198.6" x2="99.3" y2="191.5"/>
<line x1="99.3" y1="191.5" x2="109.0" y2="188.8"/>
<line x1="101.4" y1="181.6" x2="99.3" y2="191.5"/>
<line x1="101.4" y1="181.6" x2="109.0" y2="188.8"/>
<line x1="106.5" y1="198.6" x2="109.0" y2="188.8"/>
<line x1="109.0" y1="188.8" x2="116.2" y2="195.9"/>
<line x1="118.7" y1="185.6" x2="109.0" y2="188.8"/>
<line x1="118.7" y1="185.6" x2="116.2" y2="195.9"/>
<line x1="106.5" y1="236.2" x2="116.2" y2="233.5"/>
<line x1="116.2" y1="233.5" x2="113.7" y2="243.3"/>
<line x1="123.8" y1="240.3" x2="116.2" y2="233.5"/>
<line x1="123.8" y1="240.3" x2="113.7" y2="243.3"/>
<line x1="106.5" y1="236.2" x2="113.7" y2="243.3"/>
<line x1="113.7" y1="243.3" x2="104.0" y2="246.0"/>
<line x1="111.6" y1="253.2" x2="113.7" y2="243.3"/>
<line x1="111.6" y1="253.2" x2="104.0" y2="246.0"/>
<line x1="106.5" y1="236.2" x2="104.0" y2="246.0"/>
<line x1="104.0" y1="246.0" x2="96.8" y2="238.9"/>
<line x1="106.5" y1="236.2" x2="96.8" y2="238.9"/>
<line x1="96.8" y1="238.9" x2="99.3" y2="229.1"/>
<line x1="106.5" y1="236.2" x2="99.3" y2="229.1"/>
<line x1="99.3" y1="229.1" x2="109.0" y2="226.4"/>
<line x1="101.4" y1="219.2" x2="99.3" y2="229.1"/>
<line x1="101.4" y1="219.2" x2="109.0" y2="226.4"/>
<line x1="106.5" y1="236.2" x2="109.0" y2="226.4"/>
<line x1="109.0" y1="226.4" x2="116.2" y2="233.5"/>
<line x1="118.7" y1="223.2" x2="109.0" y2="226.4"/>
<line x1="118.7" y1="223.2" x2="116.2" y2="233.5"/>
<line x1="101.4" y1="256.8" x2="99.3" y2="266.7"/>
<line x1="101.4" y1="256.8" x2="109.0" y2="264.0"/>
<line x1="118.7" y1="260.8" x2="109.0" y2="264.0"/>
<line x1="118.7" y1="260.8" x2="116.2" y2="271.1"/>
<line x1="138.9" y1="265.7" x2="148.6" y2="263.0"/>
<line x1="148.6" y1="263.0" x2="146.1" y2="272.8"/>
<line x1="156.2" y1="269.8" x2="148.6" y2="263.0"/>
<line x1="129.2" y1="268.4" x2="131.7" y2="258.6"/>
<line x1="138.9" y1="265.7" x2="131.7" y2="258.6"/>
<line x1="131.7" y1="258.6" x2="141.4" y2="255.9"/>
<line x1="133.8" y1="248.7" x2="131.7" y2="258.6"/>
<line x1="133.8" y1="248.7" x2="141.4" y2="255.9"/>
<line x1="138.9" y1="265.7" x2="141.4" y2="255.9"/>
<line x1="141.4" y1="255.9" x2="148.6" y2="263.0"/>
<line x1="151.1" y1="252.7" x2="141.4" y2="255.9"/>
<line x1="151.1" y1="252.7" x2="148.6" y2="263.0"/>
<line x1="138.9" y1="228.1" x2="148.6" y2="225.4"/>
<line x1="148.6" y1="225.4" x2="146.1" y2="235.2"/>
<line x1="156.2" y1="232.2" x2="148.6" y2="225.4"/>
<line x1="156.2" y1="232.2" x2="146.1" y2="235.2"/>
<line x1="138.9" y1="228.1" x2="146.1" y2="235.2"/>
<line x1="146.1" y1="235.2" x2="136.4" y2="237.9"/>
<line x1="144.0" y1="245.1" x2="146.1" y2="235.2"/>
<line x1="144.0" y1="245.1" x2="136.4" y2="237.9"/>
<line x1="138.9" y1="228.1" x2="136.4" y2="237.9"/>
<line x1="136.4" y1="237.9" x2="129.2" y2="230.8"/>
<line x1="138.9" y1="228.1" x2="129.2" y2="230.8"/>
<line x1="129.2" y1="230.8" x2="131.7" y2="221.0"/>
<line x1="138.9" y1="228.1" x2="131.7" y2="221.0"/>
<line x1="131.7" y1="221.0" x2="141.4" y2="218.3"/>
<line x1="133.8" y1="211.1" x2="131.7" y2="221.0"/>
<line x1="133.8" y1="211.1" x2="141.4" y2="218.3"/>
<line x1="138.9" y1="228.1" x2="141.4" y2="218.3"/>
<line x1="141.4" y1="218.3" x2="148.6" y2="225.4"/>
<line x1="151.1" y1="215.1" x2="141.4" y2="218.3"/>
<line x1="151.1" y1="215.1" x2="148.6" y2="225.4"/>
<line x1="172.6" y1="246.9" x2="182.3" y2="244.2"/>
<line x1="182.3" y1="244.2" x2="179.8" y2="254.0"/>
<line x1="189.9" y1="251.0" x2="182.3" y2="244.2"/>
<line x1="189.9" y1="251.0" x2="179.8" y2="254.0"/>
<line x1="172.6" y1="246.9" x2="179.8" y2="254.0"/>
<line x1="179.8" y1="254.0" x2="170.1" y2="256.7"/>
<line x1="177.7" y1="263.9" x2="179.8" y2="254.0"/>
<line x1="177.7" y1="263.9" x2="170.1" y2="256.7"/>
<line x1="172.6" y1="246.9" x2="170.1" y2="256.7"/>
<line x1="170.1" y1="256.7" x2="162.9" y2="249.6"/>
<line x1="160.4" y1="259.9" x2="170.1" y2="256.7"/>
<line x1="160.4" y1="259.9" x2="162.9" y2="249.6"/>
<line x1="172.6" y1="246.9" x2="162.9" y2="249.6"/>
<line x1="162.9" y1="249.6" x2="165.4" y2="239.8"/>
<line x1="155.3" y1="242.8" x2="162.9" y2="249.6"/>
<line x1="155.3" y1="242.8" x2="165.4" y2="239.8"/>
<line x1="172.6" y1="246.9" x2="165.4" y2="239.8"/>
<line x1="165.4" y1="239.8" x2="175.1" y2="237.1"/>
<line x1="167.5" y1="229.9" x2="165.4" y2="239.8"/>
<line x1="167.5" y1="229.9" x2="175.1" y2="237.1"/>
<line x1="172.6" y1="246.9" x2="175.1" y2="237.1"/>
<line x1="175.1" y1="237.1" x2="182.3" y2="244.2"/>
<line x1="184.8" y1="233.9" x2="175.1" y2="237.1"/>
<line x1="184.8" y1="233.9" x2="182.3" y2="244.2"/>
<line x1="206.3" y1="265.7" x2="216.0" y2="263.0"/>
<line x1="216.0" y1="263.0" x2="213.5" y2="272.8"/>
<line x1="223.6" y1="269.8" x2="216.0" y2="263.0"/>
<line x1="196.6" y1="268.4" x2="199.1" y2="258.6"/>
<line x1="189.0" y1="261.6" x2="196.6" y2="268.4"/>
<line x1="189.0" y1="261.6" x2="199.1" y2="258.6"/>
<line x1="206.3" y1="265.7" x2="199.1" y2="258.6"/>
<line x1="199.1" y1="258.6" x2="208.8" y2="255.9"/>
<line x1="201.2" y1="248.7" x2="199.1" y2="258.6"/>
<line x1="201.2" y1="248.7" x2="208.8" y2="255.9"/>
<line x1="206.3" y1="265.7" x2="208.8" y2="255.9"/>
<line x1="208.8" y1="255.9" x2="216.0" y2="263.0"/>
<line x1="218.5" y1="252.7" x2="208.8" y2="255.9"/>
<line x1="218.5" y1="252.7" x2="216.0" y2="263.0"/>
<line x1="138.9" y1="190.5" x2="148.6" y2="187.8"/>
<line x1="148.6" y1="187.8" x2="146.1" y2="197.6"/>
<line x1="156.2" y1="194.6" x2="148.6" y2="187.8"/>
<line x1="156.2" y1="194.6" x2="146.1" y2="197.6"/>
<line x1="138.9" y1="190.5" x2="146.1" y2="197.6"/>
<line x1="146.1" y1="197.6" x2="136.4" y2="200.3"/>
<line x1="144.0" y1="207.5" x2="146.1" y2="197.6"/>
<line x1="144.0" y1="207.5" x2="136.4" y2="200.3"/>
<line x1="138.9" y1="190.5" x2="136.4" y2="200.3"/>
<line x1="136.4" y1="200.3" x2="129.2" y2="193.2"/>
<line x1="138.9" y1="190.5" x2="129.2" y2="193.2"/>
<line x1="129.2" y1="193.2" x2="131.7" y2="183.4"/>
<line x1="138.9" y1="190.5" x2="131.7" y2="183.4"/>
<line x1="138.9" y1="190.5" x2="141.4" y2="180.7"/>
<line x1="141.4" y1="180.7" x2="148.6" y2="187.8"/>
<line x1="151.1" y1="177.5" x2="148.6" y2="187.8"/>
<line x1="172.6" y1="209.3" x2="182.3" y2="206.6"/>
<line x1="182.3" y1="206.6" x2="179.8" y2="216.4"/>
<line x1="189.9" y1="213.4" x2="182.3" y2="206.6"/>
<line x1="189.9" y1="213.4" x2="179.8" y2="216.4"/>
<line x1="172.6" y1="209.3" x2="179.8" y2="216.4"/>
<line x1="179.8" y1="216.4" x2="170.1" y2="219.1"/>
<line x1="177.7" y1="226.3" x2="179.8" y2="216.4"/>
<line x1="177.7" y1="226.3" x2="170.1" y2="219.1"/>
<line x1="172.6" y1="209.3" x2="170.1" y2="219.1"/>
<line x1="170.1" y1="219.1" x2="162.9" y2="212.0"/>
<line x1="160.4" y1="222.3" x2="170.1" y2="219.1"/>
<line x1="160.4" y1="222.3" x2="162.9" y2="212.0"/>
<line x1="172.6" y1="209.3" x2="162.9" y2="212.0"/>
<line x1="162.9" y1="212.0" x2="165.4" y2="202.2"/>
<line x1="155.3" y1="205.2" x2="162.9" y2="212.0"/>
<line x1="155.3" y1="205.2" x2="165.4" y2="202.2"/>
<line x1="172.6" y1="209.3" x2="165.4" y2="202.2"/>
<line x1="165.4" y1="202.2" x2="175.1" y2="199.5"/>
<line x1="167.5" y1="192.3" x2="165.4" y2="202.2"/>
<line x1="167.5" y1="192.3" x2="175.1" y2="199.5"/>
<line x1="172.6" y1="209.3" x2="175.1" y2="199.5"/>
<line x1="175.1" y1="199.5" x2="182.3" y2="206.6"/>
<line x1="184.8" y1="196.3" x2="175.1" y2="199.5"/>
<line x1="184.8" y1="196.3" x2="182.3" y2="206.6"/>
<line x1="206.3" y1="228.1" x2="216.0" y2="225.4"/>
<line x1="216.0" y1="225.4" x2="213.5" y2="235.2"/>
<line x1="223.6" y1="232.2" x2="216.0" y2="225.4"/>
<line x1="223.6" y1="232.2" x2="213.5" y2="235.2"/>
<line x1="206.3" y1="228.1" x2="213.5" y2="235.2"/>
<line x1="213.5" y1="235.2" x2="203.8" y2="237.9"/>
<line x1="211.4" y1="245.1" x2="213.5" y2="235.2"/>
<line x1="211.4" y1="245.1" x2="203.8" y2="237.9"/>
<line x1="206.3" y1="228.1" x2="203.8" y2="237.9"/>
<line x1="203.8" y1="237.9" x2="196.6" y2="230.8"/>
<line x1="194.1" y1="241.1" x2="203.8" y2="237.9"/>
<line x1="194.1" y1="241.1" x2="196.6" y2="230.8"/>
<line x1="206.3" y1="228.1" x2="196.6" y2="230.8"/>
<line x1="196.6" y1="230.8" x2="199.1" y2="221.0"/>
<line x1="189.0" y1="224.0" x2="196.6" y2="230.8"/>
<line x1="189.0" y1="224.0" x2="199.1" y2="221.0"/>
<line x1="206.3" y1="228.1" x2="199.1" y2="221.0"/>
<line x1="199.1" y1="221.0" x2="208.8" y2="218.3"/>
<line x1="201.2" y1="211.1" x2="199.1" y2="221.0"/>
<line x1="201.2" y1="211.1" x2="208.8" y2="218.3"/>
<line x1="206.3" y1="228.1" x2="208.8" y2="218.3"/>
<line x1="208.8" y1="218.3" x2="216.0" y2="225.4"/>
<line x1="218.5" y1="215.1" x2="208.8" y2="218.3"/>
<line x1="218.5" y1="215.1" x2="216.0" y2="225.4"/>
<line x1="227.8" y1="259.9" x2="237.5" y2="256.7"/>
<line x1="227.8" y1="259.9" x2="230.3" y2="249.6"/>
<line x1="222.7" y1="242.8" x2="230.3" y2="249.6"/>
<line x1="222.7" y1="242.8" x2="232.8" y2="239.8"/>
<line x1="177.7" y1="188.7" x2="179.8" y2="178.8"/>
<line x1="177.7" y1="188.7" x2="170.1" y2="181.5"/>
<line x1="206.3" y1="190.5" x2="216.0" y2="187.8"/>
<line x1="216.0" y1="187.8" x2="213.5" y2="197.6"/>
<line x1="223.6" y1="194.6" x2="216.0" y2="187.8"/>
<line x1="223.6" y1="194.6" x2="213.5" y2="197.6"/>
<line x1="206.3" y1="190.5" x2="213.5" y2="197.6"/>
<line x1="213.5" y1="197.6" x2="203.8" y2="200.3"/>
<line x1="211.4" y1="207.5" x2="213.5" y2="197.6"/>
<line x1="211.4" y1="207.5" x2="203.8" y2="200.3"/>
<line x1="206.3" y1="190.5" x2="203.8" y2="200.3"/>
<line x1="203.8" y1="200.3" x2="196.6" y2="193.2"/>
<line x1="194.1" y1="203.5" x2="203.8" y2="200.3"/>
<line x1="194.1" y1="203.5" x2="196.6" y2="193.2"/>
<line x1="206.3" y1="190.5" x2="196.6" y2="193.2"/>
<line x1="196.6" y1="193.2" x2="199.1" y2="183.4"/>
<line x1="189.0" y1="186.4" x2="196.6" y2="193.2"/>
<line x1="189.0" y1="186.4" x2="199.1" y2="183.4"/>
<line x1="206.3" y1="190.5" x2="199.1" y2="183.4"/>
<line x1="206.3" y1="190.5" x2="208.8" y2="180.7"/>
<line x1="208.8" y1="180.7" x2="216.0" y2="187.8"/>
<line x1="218.5" y1="177.5" x2="216.0" y2="187.8"/>
<line x1="227.8" y1="222.3" x2="237.5" y2="219.1"/>
<line x1="227.8" y1="222.3" x2="230.3" y2="212.0"/>
<line x1="222.7" y1="205.2" x2="230.3" y2="212.0"/>
<line x1="222.7" y1="205.2" x2="232.8" y2="202.2"/>
<line x1="90.5" y1="221.0" x2="101.4" y2="219.2"/>
<line x1="101.4" y1="219.2" x2="111.6" y2="215.6"/>
<line x1="111.6" y1="215.6" x2="121.3" y2="212.7"/>
</g>
<g fill="url(#atomg2)" stroke="#8844bc" stroke-width="0.8">
<circle cx="87.3" cy="231.6" r="1.6"/>
<circle cx="90.5" cy="221.0" r="1.6"/>
<circle cx="121.3" cy="212.7" r="1.6"/>
<circle cx="16.9" cy="241.4" r="1.6"/>
<circle cx="14.4" cy="251.2" r="1.6"/>
<circle cx="9.7" cy="234.3" r="1.6"/>
<circle cx="24.5" cy="248.2" r="1.6"/>
<circle cx="12.3" cy="261.1" r="1.6"/>
<circle cx="19.4" cy="231.1" r="1.6"/>
<circle cx="40.9" cy="262.9" r="1.6"/>
<circle cx="50.6" cy="260.2" r="1.6"/>
<circle cx="33.7" cy="255.8" r="1.6"/>
<circle cx="43.4" cy="253.1" r="1.6"/>
<circle cx="23.6" cy="258.8" r="1.6"/>
<circle cx="35.8" cy="245.9" r="1.6"/>
<circle cx="53.1" cy="249.9" r="1.6"/>
<circle cx="16.9" cy="203.8" r="1.6"/>
<circle cx="14.4" cy="213.6" r="1.6"/>
<circle cx="9.7" cy="196.7" r="1.6"/>
<circle cx="24.5" cy="210.6" r="1.6"/>
<circle cx="12.3" cy="223.5" r="1.6"/>
<circle cx="19.4" cy="193.5" r="1.6"/>
<circle cx="40.9" cy="225.3" r="1.6"/>
<circle cx="50.6" cy="222.6" r="1.6"/>
<circle cx="48.1" cy="232.4" r="1.6"/>
<circle cx="38.4" cy="235.1" r="1.6"/>
<circle cx="31.2" cy="228.0" r="1.6"/>
<circle cx="33.7" cy="218.2" r="1.6"/>
<circle cx="43.4" cy="215.5" r="1.6"/>
<circle cx="58.2" cy="229.4" r="1.6"/>
<circle cx="46.0" cy="242.3" r="1.6"/>
<circle cx="28.7" cy="238.3" r="1.6"/>
<circle cx="23.6" cy="221.2" r="1.6"/>
<circle cx="35.8" cy="208.3" r="1.6"/>
<circle cx="53.1" cy="212.3" r="1.6"/>
<circle cx="74.6" cy="244.1" r="1.6"/>
<circle cx="84.3" cy="241.4" r="1.6"/>
<circle cx="81.8" cy="251.2" r="1.6"/>
<circle cx="72.1" cy="253.9" r="1.6"/>
<circle cx="64.9" cy="246.8" r="1.6"/>
<circle cx="67.4" cy="237.0" r="1.6"/>
<circle cx="77.1" cy="234.3" r="1.6"/>
<circle cx="91.9" cy="248.2" r="1.6"/>
<circle cx="79.7" cy="261.1" r="1.6"/>
<circle cx="62.4" cy="257.1" r="1.6"/>
<circle cx="57.3" cy="240.0" r="1.6"/>
<circle cx="69.5" cy="227.1" r="1.6"/>
<circle cx="40.9" cy="187.7" r="1.6"/>
<circle cx="48.1" cy="194.8" r="1.6"/>
<circle cx="38.4" cy="197.5" r="1.6"/>
<circle cx="31.2" cy="190.4" r="1.6"/>
<circle cx="58.2" cy="191.8" r="1.6"/>
<circle cx="46.0" cy="204.7" r="1.6"/>
<circle cx="28.7" cy="200.7" r="1.6"/>
<circle cx="74.6" cy="206.5" r="1.6"/>
<circle cx="84.3" cy="203.8" r="1.6"/>
<circle cx="81.8" cy="213.6" r="1.6"/>
<circle cx="72.1" cy="216.3" r="1.6"/>
<circle cx="64.9" cy="209.2" r="1.6"/>
<circle cx="67.4" cy="199.4" r="1.6"/>
<circle cx="77.1" cy="196.7" r="1.6"/>
<circle cx="91.9" cy="210.6" r="1.6"/>
<circle cx="79.7" cy="223.5" r="1.6"/>
<circle cx="62.4" cy="219.5" r="1.6"/>
<circle cx="57.3" cy="202.4" r="1.6"/>
<circle cx="69.5" cy="189.5" r="1.6"/>
<circle cx="86.8" cy="193.5" r="1.6"/>
<circle cx="106.5" cy="198.6" r="1.6"/>
<circle cx="116.2" cy="195.9" r="1.6"/>
<circle cx="113.7" cy="205.7" r="1.6"/>
<circle cx="104.0" cy="208.4" r="1.6"/>
<circle cx="96.8" cy="201.3" r="1.6"/>
<circle cx="99.3" cy="191.5" r="1.6"/>
<circle cx="109.0" cy="188.8" r="1.6"/>
<circle cx="123.8" cy="202.7" r="1.6"/>
<circle cx="111.6" cy="215.6" r="1.6"/>
<circle cx="106.5" cy="236.2" r="1.6"/>
<circle cx="116.2" cy="233.5" r="1.6"/>
<circle cx="113.7" cy="243.3" r="1.6"/>
<circle cx="104.0" cy="246.0" r="1.6"/>
<circle cx="96.8" cy="238.9" r="1.6"/>
<circle cx="99.3" cy="229.1" r="1.6"/>
<circle cx="109.0" cy="226.4" r="1.6"/>
<circle cx="123.8" cy="240.3" r="1.6"/>
<circle cx="111.6" cy="253.2" r="1.6"/>
<circle cx="101.4" cy="219.2" r="1.6"/>
<circle cx="118.7" cy="223.2" r="1.6"/>
<circle cx="101.4" cy="256.8" r="1.6"/>
<circle cx="118.7" cy="260.8" r="1.6"/>
<circle cx="148.6" cy="263.0" r="1.6"/>
<circle cx="131.7" cy="258.6" r="1.6"/>
<circle cx="141.4" cy="255.9" r="1.6"/>
<circle cx="133.8" cy="248.7" r="1.6"/>
<circle cx="151.1" cy="252.7" r="1.6"/>
<circle cx="138.9" cy="228.1" r="1.6"/>
<circle cx="148.6" cy="225.4" r="1.6"/>
<circle cx="146.1" cy="235.2" r="1.6"/>
<circle cx="136.4" cy="237.9" r="1.6"/>
<circle cx="129.2" cy="230.8" r="1.6"/>
<circle cx="131.7" cy="221.0" r="1.6"/>
<circle cx="141.4" cy="218.3" r="1.6"/>
<circle cx="156.2" cy="232.2" r="1.6"/>
<circle cx="144.0" cy="245.1" r="1.6"/>
<circle cx="133.8" cy="211.1" r="1.6"/>
<circle cx="151.1" cy="215.1" r="1.6"/>
<circle cx="172.6" cy="246.9" r="1.6"/>
<circle cx="182.3" cy="244.2" r="1.6"/>
<circle cx="179.8" cy="254.0" r="1.6"/>
<circle cx="170.1" cy="256.7" r="1.6"/>
<circle cx="162.9" cy="249.6" r="1.6"/>
<circle cx="165.4" cy="239.8" r="1.6"/>
<circle cx="175.1" cy="237.1" r="1.6"/>
<circle cx="189.9" cy="251.0" r="1.6"/>
<circle cx="160.4" cy="259.9" r="1.6"/>
<circle cx="155.3" cy="242.8" r="1.6"/>
<circle cx="167.5" cy="229.9" r="1.6"/>
<circle cx="184.8" cy="233.9" r="1.6"/>
<circle cx="216.0" cy="263.0" r="1.6"/>
<circle cx="199.1" cy="258.6" r="1.6"/>
<circle cx="208.8" cy="255.9" r="1.6"/>
<circle cx="189.0" cy="261.6" r="1.6"/>
<circle cx="201.2" cy="248.7" r="1.6"/>
<circle cx="218.5" cy="252.7" r="1.6"/>
<circle cx="138.9" cy="190.5" r="1.6"/>
<circle cx="148.6" cy="187.8" r="1.6"/>
<circle cx="146.1" cy="197.6" r="1.6"/>
<circle cx="136.4" cy="200.3" r="1.6"/>
<circle cx="129.2" cy="193.2" r="1.6"/>
<circle cx="156.2" cy="194.6" r="1.6"/>
<circle cx="144.0" cy="207.5" r="1.6"/>
<circle cx="172.6" cy="209.3" r="1.6"/>
<circle cx="182.3" cy="206.6" r="1.6"/>
<circle cx="179.8" cy="216.4" r="1.6"/>
<circle cx="170.1" cy="219.1" r="1.6"/>
<circle cx="162.9" cy="212.0" r="1.6"/>
<circle cx="165.4" cy="202.2" r="1.6"/>
<circle cx="175.1" cy="199.5" r="1.6"/>
<circle cx="189.9" cy="213.4" r="1.6"/>
<circle cx="177.7" cy="226.3" r="1.6"/>
<circle cx="160.4" cy="222.3" r="1.6"/>
<circle cx="155.3" cy="205.2" r="1.6"/>
<circle cx="167.5" cy="192.3" r="1.6"/>
<circle cx="184.8" cy="196.3" r="1.6"/>
<circle cx="206.3" cy="228.1" r="1.6"/>
<circle cx="216.0" cy="225.4" r="1.6"/>
<circle cx="213.5" cy="235.2" r="1.6"/>
<circle cx="203.8" cy="237.9" r="1.6"/>
<circle cx="196.6" cy="230.8" r="1.6"/>
<circle cx="199.1" cy="221.0" r="1.6"/>
<circle cx="208.8" cy="218.3" r="1.6"/>
<circle cx="223.6" cy="232.2" r="1.6"/>
<circle cx="211.4" cy="245.1" r="1.6"/>
<circle cx="194.1" cy="241.1" r="1.6"/>
<circle cx="189.0" cy="224.0" r="1.6"/>
<circle cx="201.2" cy="211.1" r="1.6"/>
<circle cx="218.5" cy="215.1" r="1.6"/>
<circle cx="227.8" cy="259.9" r="1.6"/>
<circle cx="222.7" cy="242.8" r="1.6"/>
<circle cx="177.7" cy="188.7" r="1.6"/>
<circle cx="206.3" cy="190.5" r="1.6"/>
<circle cx="216.0" cy="187.8" r="1.6"/>
<circle cx="213.5" cy="197.6" r="1.6"/>
<circle cx="203.8" cy="200.3" r="1.6"/>
<circle cx="196.6" cy="193.2" r="1.6"/>
<circle cx="223.6" cy="194.6" r="1.6"/>
<circle cx="211.4" cy="207.5" r="1.6"/>
<circle cx="194.1" cy="203.5" r="1.6"/>
<circle cx="189.0" cy="186.4" r="1.6"/>
<circle cx="227.8" cy="222.3" r="1.6"/>
<circle cx="222.7" cy="205.2" r="1.6"/>
</g></g>
<rect x="12.5" y="189.3" width="214.0" height="71.19999999999999" fill="none" stroke="#111" stroke-width="1.2"/>
<rect x="12.5" y="277.6" width="214.0" height="70.59999999999997" fill="#e4e354"/>
<g clip-path="url(#clipd)">
<g filter="url(#blur2)">
<ellipse cx="73" cy="250.4" rx="12" ry="9" fill="#e3bf5e" opacity="0.9"/>
<ellipse cx="139.5" cy="271.9" rx="10" ry="8" fill="#e4c45c" opacity="0.7"/>
<ellipse cx="113.5" cy="275.9" rx="13" ry="11" fill="#e0ae60"/>
<ellipse cx="98" cy="285.9" rx="14" ry="7.5" transform="rotate(35 98 285.9)" fill="#e0ae60"/>
<ellipse cx="73" cy="288.0" rx="12" ry="9" fill="#e3bf5e" opacity="0.9"/>
<ellipse cx="139.5" cy="309.5" rx="10" ry="8" fill="#e4c45c" opacity="0.7"/>
<ellipse cx="113.5" cy="313.5" rx="13" ry="11" fill="#e0ae60"/>
<ellipse cx="98" cy="323.5" rx="14" ry="7.5" transform="rotate(35 98 323.5)" fill="#e0ae60"/>
<ellipse cx="73" cy="325.6" rx="12" ry="9" fill="#e3bf5e" opacity="0.9"/>
<ellipse cx="139.5" cy="347.1" rx="10" ry="8" fill="#e4c45c" opacity="0.7"/>
<ellipse cx="113.5" cy="351.1" rx="13" ry="11" fill="#e0ae60"/>
<ellipse cx="98" cy="361.1" rx="14" ry="7.5" transform="rotate(35 98 361.1)" fill="#e0ae60"/>
</g>
<g filter="url(#blur1)">
<ellipse cx="110.5" cy="272.9" rx="8" ry="4.6" transform="rotate(40 110.5 272.9)" fill="#7cbea6"/>
<circle cx="93.3" cy="281.7" r="3.6" fill="#78bca8"/>
<circle cx="102.4" cy="289.79999999999995" r="3.6" fill="#78bca8"/>
<circle cx="114.6" cy="276.79999999999995" r="4.8" fill="#5a8cc8"/>
<circle cx="115" cy="277.2" r="2.9" fill="#28309c"/>
<ellipse cx="110.5" cy="310.5" rx="8" ry="4.6" transform="rotate(40 110.5 310.5)" fill="#7cbea6"/>
<circle cx="93.3" cy="319.3" r="3.6" fill="#78bca8"/>
<circle cx="102.4" cy="327.4" r="3.6" fill="#78bca8"/>
<circle cx="114.6" cy="314.4" r="4.8" fill="#5a8cc8"/>
<circle cx="115" cy="314.8" r="2.9" fill="#28309c"/>
<ellipse cx="110.5" cy="348.1" rx="8" ry="4.6" transform="rotate(40 110.5 348.1)" fill="#7cbea6"/>
<circle cx="93.3" cy="356.90000000000003" r="3.6" fill="#78bca8"/>
<circle cx="102.4" cy="365.0" r="3.6" fill="#78bca8"/>
<circle cx="114.6" cy="352.0" r="4.8" fill="#5a8cc8"/>
<circle cx="115" cy="352.40000000000003" r="2.9" fill="#28309c"/>
</g>
</g>
<g clip-path="url(#clipd)">
<g stroke="#a6a8c0" stroke-width="1.0" fill="none">
<line x1="7.2" y1="331.7" x2="16.9" y2="329.0"/>
<line x1="16.9" y1="329.0" x2="14.4" y2="338.8"/>
<line x1="24.5" y1="335.8" x2="16.9" y2="329.0"/>
<line x1="24.5" y1="335.8" x2="14.4" y2="338.8"/>
<line x1="7.2" y1="331.7" x2="14.4" y2="338.8"/>
<line x1="14.4" y1="338.8" x2="4.7" y2="341.5"/>
<line x1="12.3" y1="348.7" x2="14.4" y2="338.8"/>
<line x1="12.3" y1="348.7" x2="4.7" y2="341.5"/>
<line x1="-0.0" y1="324.6" x2="9.7" y2="321.9"/>
<line x1="2.1" y1="314.7" x2="9.7" y2="321.9"/>
<line x1="7.2" y1="331.7" x2="9.7" y2="321.9"/>
<line x1="9.7" y1="321.9" x2="16.9" y2="329.0"/>
<line x1="19.4" y1="318.7" x2="9.7" y2="321.9"/>
<line x1="19.4" y1="318.7" x2="16.9" y2="329.0"/>
<line x1="40.9" y1="350.5" x2="50.6" y2="347.8"/>
<line x1="50.6" y1="347.8" x2="48.1" y2="357.6"/>
<line x1="58.2" y1="354.6" x2="50.6" y2="347.8"/>
<line x1="40.9" y1="350.5" x2="48.1" y2="357.6"/>
<line x1="40.9" y1="350.5" x2="38.4" y2="360.3"/>
<line x1="40.9" y1="350.5" x2="31.2" y2="353.2"/>
<line x1="31.2" y1="353.2" x2="33.7" y2="343.4"/>
<line x1="23.6" y1="346.4" x2="31.2" y2="353.2"/>
<line x1="23.6" y1="346.4" x2="33.7" y2="343.4"/>
<line x1="40.9" y1="350.5" x2="33.7" y2="343.4"/>
<line x1="33.7" y1="343.4" x2="43.4" y2="340.7"/>
<line x1="35.8" y1="333.5" x2="33.7" y2="343.4"/>
<line x1="35.8" y1="333.5" x2="43.4" y2="340.7"/>
<line x1="40.9" y1="350.5" x2="43.4" y2="340.7"/>
<line x1="43.4" y1="340.7" x2="50.6" y2="347.8"/>
<line x1="53.1" y1="337.5" x2="43.4" y2="340.7"/>
<line x1="53.1" y1="337.5" x2="50.6" y2="347.8"/>
<line x1="7.2" y1="294.1" x2="16.9" y2="291.4"/>
<line x1="16.9" y1="291.4" x2="14.4" y2="301.2"/>
<line x1="24.5" y1="298.2" x2="16.9" y2="291.4"/>
<line x1="24.5" y1="298.2" x2="14.4" y2="301.2"/>
<line x1="7.2" y1="294.1" x2="14.4" y2="301.2"/>
<line x1="14.4" y1="301.2" x2="4.7" y2="303.9"/>
<line x1="12.3" y1="311.1" x2="14.4" y2="301.2"/>
<line x1="12.3" y1="311.1" x2="4.7" y2="303.9"/>
<line x1="-0.0" y1="287.0" x2="9.7" y2="284.3"/>
<line x1="2.1" y1="277.1" x2="9.7" y2="284.3"/>
<line x1="7.2" y1="294.1" x2="9.7" y2="284.3"/>
<line x1="9.7" y1="284.3" x2="16.9" y2="291.4"/>
<line x1="19.4" y1="281.1" x2="9.7" y2="284.3"/>
<line x1="19.4" y1="281.1" x2="16.9" y2="291.4"/>
<line x1="40.9" y1="312.9" x2="50.6" y2="310.2"/>
<line x1="50.6" y1="310.2" x2="48.1" y2="320.0"/>
<line x1="58.2" y1="317.0" x2="50.6" y2="310.2"/>
<line x1="58.2" y1="317.0" x2="48.1" y2="320.0"/>
<line x1="40.9" y1="312.9" x2="48.1" y2="320.0"/>
<line x1="48.1" y1="320.0" x2="38.4" y2="322.7"/>
<line x1="46.0" y1="329.9" x2="48.1" y2="320.0"/>
<line x1="46.0" y1="329.9" x2="38.4" y2="322.7"/>
<line x1="40.9" y1="312.9" x2="38.4" y2="322.7"/>
<line x1="38.4" y1="322.7" x2="31.2" y2="315.6"/>
<line x1="28.7" y1="325.9" x2="38.4" y2="322.7"/>
<line x1="28.7" y1="325.9" x2="31.2" y2="315.6"/>
<line x1="40.9" y1="312.9" x2="31.2" y2="315.6"/>
<line x1="31.2" y1="315.6" x2="33.7" y2="305.8"/>
<line x1="23.6" y1="308.8" x2="31.2" y2="315.6"/>
<line x1="23.6" y1="308.8" x2="33.7" y2="305.8"/>
<line x1="40.9" y1="312.9" x2="33.7" y2="305.8"/>
<line x1="33.7" y1="305.8" x2="43.4" y2="303.1"/>
<line x1="35.8" y1="295.9" x2="33.7" y2="305.8"/>
<line x1="35.8" y1="295.9" x2="43.4" y2="303.1"/>
<line x1="40.9" y1="312.9" x2="43.4" y2="303.1"/>
<line x1="43.4" y1="303.1" x2="50.6" y2="310.2"/>
<line x1="53.1" y1="299.9" x2="43.4" y2="303.1"/>
<line x1="53.1" y1="299.9" x2="50.6" y2="310.2"/>
<line x1="74.6" y1="331.7" x2="84.3" y2="329.0"/>
<line x1="84.3" y1="329.0" x2="81.8" y2="338.8"/>
<line x1="91.9" y1="335.8" x2="84.3" y2="329.0"/>
<line x1="91.9" y1="335.8" x2="81.8" y2="338.8"/>
<line x1="74.6" y1="331.7" x2="81.8" y2="338.8"/>
<line x1="81.8" y1="338.8" x2="72.1" y2="341.5"/>
<line x1="79.7" y1="348.7" x2="81.8" y2="338.8"/>
<line x1="79.7" y1="348.7" x2="72.1" y2="341.5"/>
<line x1="74.6" y1="331.7" x2="72.1" y2="341.5"/>
<line x1="72.1" y1="341.5" x2="64.9" y2="334.4"/>
<line x1="62.4" y1="344.7" x2="72.1" y2="341.5"/>
<line x1="62.4" y1="344.7" x2="64.9" y2="334.4"/>
<line x1="74.6" y1="331.7" x2="64.9" y2="334.4"/>
<line x1="64.9" y1="334.4" x2="67.4" y2="324.6"/>
<line x1="57.3" y1="327.6" x2="64.9" y2="334.4"/>
<line x1="57.3" y1="327.6" x2="67.4" y2="324.6"/>
<line x1="74.6" y1="331.7" x2="67.4" y2="324.6"/>
<line x1="67.4" y1="324.6" x2="77.1" y2="321.9"/>
<line x1="69.5" y1="314.7" x2="67.4" y2="324.6"/>
<line x1="69.5" y1="314.7" x2="77.1" y2="321.9"/>
<line x1="74.6" y1="331.7" x2="77.1" y2="321.9"/>
<line x1="77.1" y1="321.9" x2="84.3" y2="329.0"/>
<line x1="40.9" y1="275.3" x2="50.6" y2="272.6"/>
<line x1="50.6" y1="272.6" x2="48.1" y2="282.4"/>
<line x1="58.2" y1="279.4" x2="50.6" y2="272.6"/>
<line x1="58.2" y1="279.4" x2="48.1" y2="282.4"/>
<line x1="40.9" y1="275.3" x2="48.1" y2="282.4"/>
<line x1="48.1" y1="282.4" x2="38.4" y2="285.1"/>
<line x1="46.0" y1="292.3" x2="48.1" y2="282.4"/>
<line x1="46.0" y1="292.3" x2="38.4" y2="285.1"/>
<line x1="40.9" y1="275.3" x2="38.4" y2="285.1"/>
<line x1="38.4" y1="285.1" x2="31.2" y2="278.0"/>
<line x1="28.7" y1="288.3" x2="38.4" y2="285.1"/>
<line x1="28.7" y1="288.3" x2="31.2" y2="278.0"/>
<line x1="40.9" y1="275.3" x2="31.2" y2="278.0"/>
<line x1="31.2" y1="278.0" x2="33.7" y2="268.2"/>
<line x1="23.6" y1="271.2" x2="31.2" y2="278.0"/>
<line x1="40.9" y1="275.3" x2="33.7" y2="268.2"/>
<line x1="40.9" y1="275.3" x2="43.4" y2="265.5"/>
<line x1="74.6" y1="294.1" x2="84.3" y2="291.4"/>
<line x1="84.3" y1="291.4" x2="81.8" y2="301.2"/>
<line x1="91.9" y1="298.2" x2="84.3" y2="291.4"/>
<line x1="91.9" y1="298.2" x2="81.8" y2="301.2"/>
<line x1="74.6" y1="294.1" x2="81.8" y2="301.2"/>
<line x1="81.8" y1="301.2" x2="72.1" y2="303.9"/>
<line x1="79.7" y1="311.1" x2="81.8" y2="301.2"/>
<line x1="79.7" y1="311.1" x2="72.1" y2="303.9"/>
<line x1="74.6" y1="294.1" x2="72.1" y2="303.9"/>
<line x1="72.1" y1="303.9" x2="64.9" y2="296.8"/>
<line x1="62.4" y1="307.1" x2="72.1" y2="303.9"/>
<line x1="62.4" y1="307.1" x2="64.9" y2="296.8"/>
<line x1="74.6" y1="294.1" x2="64.9" y2="296.8"/>
<line x1="64.9" y1="296.8" x2="67.4" y2="287.0"/>
<line x1="57.3" y1="290.0" x2="64.9" y2="296.8"/>
<line x1="57.3" y1="290.0" x2="67.4" y2="287.0"/>
<line x1="74.6" y1="294.1" x2="67.4" y2="287.0"/>
<line x1="67.4" y1="287.0" x2="77.1" y2="284.3"/>
<line x1="69.5" y1="277.1" x2="67.4" y2="287.0"/>
<line x1="69.5" y1="277.1" x2="77.1" y2="284.3"/>
<line x1="74.6" y1="294.1" x2="77.1" y2="284.3"/>
<line x1="77.1" y1="284.3" x2="84.3" y2="291.4"/>
<line x1="86.8" y1="281.1" x2="77.1" y2="284.3"/>
<line x1="86.8" y1="281.1" x2="84.3" y2="291.4"/>
<line x1="106.5" y1="286.2" x2="116.2" y2="283.5"/>
<line x1="116.2" y1="283.5" x2="113.7" y2="293.3"/>
<line x1="123.8" y1="290.3" x2="116.2" y2="283.5"/>
<line x1="123.8" y1="290.3" x2="113.7" y2="293.3"/>
<line x1="106.5" y1="286.2" x2="113.7" y2="293.3"/>
<line x1="113.7" y1="293.3" x2="104.0" y2="296.0"/>
<line x1="111.6" y1="303.2" x2="113.7" y2="293.3"/>
<line x1="111.6" y1="303.2" x2="104.0" y2="296.0"/>
<line x1="106.5" y1="286.2" x2="104.0" y2="296.0"/>
<line x1="104.0" y1="296.0" x2="96.8" y2="288.9"/>
<line x1="106.5" y1="286.2" x2="96.8" y2="288.9"/>
<line x1="96.8" y1="288.9" x2="99.3" y2="279.1"/>
<line x1="106.5" y1="286.2" x2="99.3" y2="279.1"/>
<line x1="99.3" y1="279.1" x2="109.0" y2="276.4"/>
<line x1="101.4" y1="269.2" x2="99.3" y2="279.1"/>
<line x1="101.4" y1="269.2" x2="109.0" y2="276.4"/>
<line x1="106.5" y1="286.2" x2="109.0" y2="276.4"/>
<line x1="109.0" y1="276.4" x2="116.2" y2="283.5"/>
<line x1="118.7" y1="273.2" x2="109.0" y2="276.4"/>
<line x1="118.7" y1="273.2" x2="116.2" y2="283.5"/>
<line x1="106.5" y1="323.8" x2="116.2" y2="321.1"/>
<line x1="116.2" y1="321.1" x2="113.7" y2="330.9"/>
<line x1="123.8" y1="327.9" x2="116.2" y2="321.1"/>
<line x1="123.8" y1="327.9" x2="113.7" y2="330.9"/>
<line x1="106.5" y1="323.8" x2="113.7" y2="330.9"/>
<line x1="113.7" y1="330.9" x2="104.0" y2="333.6"/>
<line x1="111.6" y1="340.8" x2="113.7" y2="330.9"/>
<line x1="111.6" y1="340.8" x2="104.0" y2="333.6"/>
<line x1="106.5" y1="323.8" x2="104.0" y2="333.6"/>
<line x1="104.0" y1="333.6" x2="96.8" y2="326.5"/>
<line x1="106.5" y1="323.8" x2="96.8" y2="326.5"/>
<line x1="96.8" y1="326.5" x2="99.3" y2="316.7"/>
<line x1="106.5" y1="323.8" x2="99.3" y2="316.7"/>
<line x1="99.3" y1="316.7" x2="109.0" y2="314.0"/>
<line x1="101.4" y1="306.8" x2="99.3" y2="316.7"/>
<line x1="101.4" y1="306.8" x2="109.0" y2="314.0"/>
<line x1="106.5" y1="323.8" x2="109.0" y2="314.0"/>
<line x1="109.0" y1="314.0" x2="116.2" y2="321.1"/>
<line x1="118.7" y1="310.8" x2="109.0" y2="314.0"/>
<line x1="118.7" y1="310.8" x2="116.2" y2="321.1"/>
<line x1="101.4" y1="344.4" x2="99.3" y2="354.3"/>
<line x1="101.4" y1="344.4" x2="109.0" y2="351.6"/>
<line x1="118.7" y1="348.4" x2="109.0" y2="351.6"/>
<line x1="118.7" y1="348.4" x2="116.2" y2="358.7"/>
<line x1="138.9" y1="353.3" x2="148.6" y2="350.6"/>
<line x1="148.6" y1="350.6" x2="146.1" y2="360.4"/>
<line x1="156.2" y1="357.4" x2="148.6" y2="350.6"/>
<line x1="129.2" y1="356.0" x2="131.7" y2="346.2"/>
<line x1="138.9" y1="353.3" x2="131.7" y2="346.2"/>
<line x1="131.7" y1="346.2" x2="141.4" y2="343.5"/>
<line x1="133.8" y1="336.3" x2="131.7" y2="346.2"/>
<line x1="133.8" y1="336.3" x2="141.4" y2="343.5"/>
<line x1="138.9" y1="353.3" x2="141.4" y2="343.5"/>
<line x1="141.4" y1="343.5" x2="148.6" y2="350.6"/>
<line x1="151.1" y1="340.3" x2="141.4" y2="343.5"/>
<line x1="151.1" y1="340.3" x2="148.6" y2="350.6"/>
<line x1="138.9" y1="315.7" x2="148.6" y2="313.0"/>
<line x1="148.6" y1="313.0" x2="146.1" y2="322.8"/>
<line x1="156.2" y1="319.8" x2="148.6" y2="313.0"/>
<line x1="156.2" y1="319.8" x2="146.1" y2="322.8"/>
<line x1="138.9" y1="315.7" x2="146.1" y2="322.8"/>
<line x1="146.1" y1="322.8" x2="136.4" y2="325.5"/>
<line x1="144.0" y1="332.7" x2="146.1" y2="322.8"/>
<line x1="144.0" y1="332.7" x2="136.4" y2="325.5"/>
<line x1="138.9" y1="315.7" x2="136.4" y2="325.5"/>
<line x1="136.4" y1="325.5" x2="129.2" y2="318.4"/>
<line x1="138.9" y1="315.7" x2="129.2" y2="318.4"/>
<line x1="129.2" y1="318.4" x2="131.7" y2="308.6"/>
<line x1="138.9" y1="315.7" x2="131.7" y2="308.6"/>
<line x1="131.7" y1="308.6" x2="141.4" y2="305.9"/>
<line x1="133.8" y1="298.7" x2="131.7" y2="308.6"/>
<line x1="133.8" y1="298.7" x2="141.4" y2="305.9"/>
<line x1="138.9" y1="315.7" x2="141.4" y2="305.9"/>
<line x1="141.4" y1="305.9" x2="148.6" y2="313.0"/>
<line x1="151.1" y1="302.7" x2="141.4" y2="305.9"/>
<line x1="151.1" y1="302.7" x2="148.6" y2="313.0"/>
<line x1="172.6" y1="334.5" x2="182.3" y2="331.8"/>
<line x1="182.3" y1="331.8" x2="179.8" y2="341.6"/>
<line x1="189.9" y1="338.6" x2="182.3" y2="331.8"/>
<line x1="189.9" y1="338.6" x2="179.8" y2="341.6"/>
<line x1="172.6" y1="334.5" x2="179.8" y2="341.6"/>
<line x1="179.8" y1="341.6" x2="170.1" y2="344.3"/>
<line x1="177.7" y1="351.5" x2="179.8" y2="341.6"/>
<line x1="177.7" y1="351.5" x2="170.1" y2="344.3"/>
<line x1="172.6" y1="334.5" x2="170.1" y2="344.3"/>
<line x1="170.1" y1="344.3" x2="162.9" y2="337.2"/>
<line x1="160.4" y1="347.5" x2="170.1" y2="344.3"/>
<line x1="160.4" y1="347.5" x2="162.9" y2="337.2"/>
<line x1="172.6" y1="334.5" x2="162.9" y2="337.2"/>
<line x1="162.9" y1="337.2" x2="165.4" y2="327.4"/>
<line x1="155.3" y1="330.4" x2="162.9" y2="337.2"/>
<line x1="155.3" y1="330.4" x2="165.4" y2="327.4"/>
<line x1="172.6" y1="334.5" x2="165.4" y2="327.4"/>
<line x1="165.4" y1="327.4" x2="175.1" y2="324.7"/>
<line x1="167.5" y1="317.5" x2="165.4" y2="327.4"/>
<line x1="167.5" y1="317.5" x2="175.1" y2="324.7"/>
<line x1="172.6" y1="334.5" x2="175.1" y2="324.7"/>
<line x1="175.1" y1="324.7" x2="182.3" y2="331.8"/>
<line x1="184.8" y1="321.5" x2="175.1" y2="324.7"/>
<line x1="184.8" y1="321.5" x2="182.3" y2="331.8"/>
<line x1="206.3" y1="353.3" x2="216.0" y2="350.6"/>
<line x1="216.0" y1="350.6" x2="213.5" y2="360.4"/>
<line x1="223.6" y1="357.4" x2="216.0" y2="350.6"/>
<line x1="196.6" y1="356.0" x2="199.1" y2="346.2"/>
<line x1="189.0" y1="349.2" x2="196.6" y2="356.0"/>
<line x1="189.0" y1="349.2" x2="199.1" y2="346.2"/>
<line x1="206.3" y1="353.3" x2="199.1" y2="346.2"/>
<line x1="199.1" y1="346.2" x2="208.8" y2="343.5"/>
<line x1="201.2" y1="336.3" x2="199.1" y2="346.2"/>
<line x1="201.2" y1="336.3" x2="208.8" y2="343.5"/>
<line x1="206.3" y1="353.3" x2="208.8" y2="343.5"/>
<line x1="208.8" y1="343.5" x2="216.0" y2="350.6"/>
<line x1="218.5" y1="340.3" x2="208.8" y2="343.5"/>
<line x1="218.5" y1="340.3" x2="216.0" y2="350.6"/>
<line x1="138.9" y1="278.1" x2="148.6" y2="275.4"/>
<line x1="148.6" y1="275.4" x2="146.1" y2="285.2"/>
<line x1="156.2" y1="282.2" x2="148.6" y2="275.4"/>
<line x1="156.2" y1="282.2" x2="146.1" y2="285.2"/>
<line x1="138.9" y1="278.1" x2="146.1" y2="285.2"/>
<line x1="146.1" y1="285.2" x2="136.4" y2="287.9"/>
<line x1="144.0" y1="295.1" x2="146.1" y2="285.2"/>
<line x1="144.0" y1="295.1" x2="136.4" y2="287.9"/>
<line x1="138.9" y1="278.1" x2="136.4" y2="287.9"/>
<line x1="136.4" y1="287.9" x2="129.2" y2="280.8"/>
<line x1="138.9" y1="278.1" x2="129.2" y2="280.8"/>
<line x1="129.2" y1="280.8" x2="131.7" y2="271.0"/>
<line x1="138.9" y1="278.1" x2="131.7" y2="271.0"/>
<line x1="138.9" y1="278.1" x2="141.4" y2="268.3"/>
<line x1="141.4" y1="268.3" x2="148.6" y2="275.4"/>
<line x1="151.1" y1="265.1" x2="148.6" y2="275.4"/>
<line x1="172.6" y1="296.9" x2="182.3" y2="294.2"/>
<line x1="182.3" y1="294.2" x2="179.8" y2="304.0"/>
<line x1="189.9" y1="301.0" x2="182.3" y2="294.2"/>
<line x1="189.9" y1="301.0" x2="179.8" y2="304.0"/>
<line x1="172.6" y1="296.9" x2="179.8" y2="304.0"/>
<line x1="179.8" y1="304.0" x2="170.1" y2="306.7"/>
<line x1="177.7" y1="313.9" x2="179.8" y2="304.0"/>
<line x1="177.7" y1="313.9" x2="170.1" y2="306.7"/>
<line x1="172.6" y1="296.9" x2="170.1" y2="306.7"/>
<line x1="170.1" y1="306.7" x2="162.9" y2="299.6"/>
<line x1="160.4" y1="309.9" x2="170.1" y2="306.7"/>
<line x1="160.4" y1="309.9" x2="162.9" y2="299.6"/>
<line x1="172.6" y1="296.9" x2="162.9" y2="299.6"/>
<line x1="162.9" y1="299.6" x2="165.4" y2="289.8"/>
<line x1="155.3" y1="292.8" x2="162.9" y2="299.6"/>
<line x1="155.3" y1="292.8" x2="165.4" y2="289.8"/>
<line x1="172.6" y1="296.9" x2="165.4" y2="289.8"/>
<line x1="165.4" y1="289.8" x2="175.1" y2="287.1"/>
<line x1="167.5" y1="279.9" x2="165.4" y2="289.8"/>
<line x1="167.5" y1="279.9" x2="175.1" y2="287.1"/>
<line x1="172.6" y1="296.9" x2="175.1" y2="287.1"/>
<line x1="175.1" y1="287.1" x2="182.3" y2="294.2"/>
<line x1="184.8" y1="283.9" x2="175.1" y2="287.1"/>
<line x1="184.8" y1="283.9" x2="182.3" y2="294.2"/>
<line x1="206.3" y1="315.7" x2="216.0" y2="313.0"/>
<line x1="216.0" y1="313.0" x2="213.5" y2="322.8"/>
<line x1="223.6" y1="319.8" x2="216.0" y2="313.0"/>
<line x1="223.6" y1="319.8" x2="213.5" y2="322.8"/>
<line x1="206.3" y1="315.7" x2="213.5" y2="322.8"/>
<line x1="213.5" y1="322.8" x2="203.8" y2="325.5"/>
<line x1="211.4" y1="332.7" x2="213.5" y2="322.8"/>
<line x1="211.4" y1="332.7" x2="203.8" y2="325.5"/>
<line x1="206.3" y1="315.7" x2="203.8" y2="325.5"/>
<line x1="203.8" y1="325.5" x2="196.6" y2="318.4"/>
<line x1="194.1" y1="328.7" x2="203.8" y2="325.5"/>
<line x1="194.1" y1="328.7" x2="196.6" y2="318.4"/>
<line x1="206.3" y1="315.7" x2="196.6" y2="318.4"/>
<line x1="196.6" y1="318.4" x2="199.1" y2="308.6"/>
<line x1="189.0" y1="311.6" x2="196.6" y2="318.4"/>
<line x1="189.0" y1="311.6" x2="199.1" y2="308.6"/>
<line x1="206.3" y1="315.7" x2="199.1" y2="308.6"/>
<line x1="199.1" y1="308.6" x2="208.8" y2="305.9"/>
<line x1="201.2" y1="298.7" x2="199.1" y2="308.6"/>
<line x1="201.2" y1="298.7" x2="208.8" y2="305.9"/>
<line x1="206.3" y1="315.7" x2="208.8" y2="305.9"/>
<line x1="208.8" y1="305.9" x2="216.0" y2="313.0"/>
<line x1="218.5" y1="302.7" x2="208.8" y2="305.9"/>
<line x1="218.5" y1="302.7" x2="216.0" y2="313.0"/>
<line x1="227.8" y1="347.5" x2="237.5" y2="344.3"/>
<line x1="227.8" y1="347.5" x2="230.3" y2="337.2"/>
<line x1="222.7" y1="330.4" x2="230.3" y2="337.2"/>
<line x1="222.7" y1="330.4" x2="232.8" y2="327.4"/>
<line x1="177.7" y1="276.3" x2="179.8" y2="266.4"/>
<line x1="177.7" y1="276.3" x2="170.1" y2="269.1"/>
<line x1="206.3" y1="278.1" x2="216.0" y2="275.4"/>
<line x1="216.0" y1="275.4" x2="213.5" y2="285.2"/>
<line x1="223.6" y1="282.2" x2="216.0" y2="275.4"/>
<line x1="223.6" y1="282.2" x2="213.5" y2="285.2"/>
<line x1="206.3" y1="278.1" x2="213.5" y2="285.2"/>
<line x1="213.5" y1="285.2" x2="203.8" y2="287.9"/>
<line x1="211.4" y1="295.1" x2="213.5" y2="285.2"/>
<line x1="211.4" y1="295.1" x2="203.8" y2="287.9"/>
<line x1="206.3" y1="278.1" x2="203.8" y2="287.9"/>
<line x1="203.8" y1="287.9" x2="196.6" y2="280.8"/>
<line x1="194.1" y1="291.1" x2="203.8" y2="287.9"/>
<line x1="194.1" y1="291.1" x2="196.6" y2="280.8"/>
<line x1="206.3" y1="278.1" x2="196.6" y2="280.8"/>
<line x1="196.6" y1="280.8" x2="199.1" y2="271.0"/>
<line x1="189.0" y1="274.0" x2="196.6" y2="280.8"/>
<line x1="206.3" y1="278.1" x2="199.1" y2="271.0"/>
<line x1="206.3" y1="278.1" x2="208.8" y2="268.3"/>
<line x1="208.8" y1="268.3" x2="216.0" y2="275.4"/>
<line x1="218.5" y1="265.1" x2="216.0" y2="275.4"/>
<line x1="227.8" y1="309.9" x2="237.5" y2="306.7"/>
<line x1="227.8" y1="309.9" x2="230.3" y2="299.6"/>
<line x1="222.7" y1="292.8" x2="230.3" y2="299.6"/>
<line x1="222.7" y1="292.8" x2="232.8" y2="289.8"/>
<line x1="90.5" y1="308.6" x2="101.4" y2="306.8"/>
<line x1="101.4" y1="306.8" x2="111.6" y2="303.2"/>
<line x1="111.6" y1="303.2" x2="121.3" y2="300.3"/>
</g>
<g fill="url(#atomg2)" stroke="#8844bc" stroke-width="0.8">
<circle cx="87.3" cy="319.2" r="1.6"/>
<circle cx="90.5" cy="308.6" r="1.6"/>
<circle cx="121.3" cy="300.3" r="1.6"/>
<circle cx="16.9" cy="329.0" r="1.6"/>
<circle cx="14.4" cy="338.8" r="1.6"/>
<circle cx="9.7" cy="321.9" r="1.6"/>
<circle cx="24.5" cy="335.8" r="1.6"/>
<circle cx="12.3" cy="348.7" r="1.6"/>
<circle cx="19.4" cy="318.7" r="1.6"/>
<circle cx="40.9" cy="350.5" r="1.6"/>
<circle cx="50.6" cy="347.8" r="1.6"/>
<circle cx="33.7" cy="343.4" r="1.6"/>
<circle cx="43.4" cy="340.7" r="1.6"/>
<circle cx="23.6" cy="346.4" r="1.6"/>
<circle cx="35.8" cy="333.5" r="1.6"/>
<circle cx="53.1" cy="337.5" r="1.6"/>
<circle cx="16.9" cy="291.4" r="1.6"/>
<circle cx="14.4" cy="301.2" r="1.6"/>
<circle cx="9.7" cy="284.3" r="1.6"/>
<circle cx="24.5" cy="298.2" r="1.6"/>
<circle cx="12.3" cy="311.1" r="1.6"/>
<circle cx="19.4" cy="281.1" r="1.6"/>
<circle cx="40.9" cy="312.9" r="1.6"/>
<circle cx="50.6" cy="310.2" r="1.6"/>
<circle cx="48.1" cy="320.0" r="1.6"/>
<circle cx="38.4" cy="322.7" r="1.6"/>
<circle cx="31.2" cy="315.6" r="1.6"/>
<circle cx="33.7" cy="305.8" r="1.6"/>
<circle cx="43.4" cy="303.1" r="1.6"/>
<circle cx="58.2" cy="317.0" r="1.6"/>
<circle cx="46.0" cy="329.9" r="1.6"/>
<circle cx="28.7" cy="325.9" r="1.6"/>
<circle cx="23.6" cy="308.8" r="1.6"/>
<circle cx="35.8" cy="295.9" r="1.6"/>
<circle cx="53.1" cy="299.9" r="1.6"/>
<circle cx="74.6" cy="331.7" r="1.6"/>
<circle cx="84.3" cy="329.0" r="1.6"/>
<circle cx="81.8" cy="338.8" r="1.6"/>
<circle cx="72.1" cy="341.5" r="1.6"/>
<circle cx="64.9" cy="334.4" r="1.6"/>
<circle cx="67.4" cy="324.6" r="1.6"/>
<circle cx="77.1" cy="321.9" r="1.6"/>
<circle cx="91.9" cy="335.8" r="1.6"/>
<circle cx="79.7" cy="348.7" r="1.6"/>
<circle cx="62.4" cy="344.7" r="1.6"/>
<circle cx="57.3" cy="327.6" r="1.6"/>
<circle cx="69.5" cy="314.7" r="1.6"/>
<circle cx="40.9" cy="275.3" r="1.6"/>
<circle cx="48.1" cy="282.4" r="1.6"/>
<circle cx="38.4" cy="285.1" r="1.6"/>
<circle cx="31.2" cy="278.0" r="1.6"/>
<circle cx="58.2" cy="279.4" r="1.6"/>
<circle cx="46.0" cy="292.3" r="1.6"/>
<circle cx="28.7" cy="288.3" r="1.6"/>
<circle cx="74.6" cy="294.1" r="1.6"/>
<circle cx="84.3" cy="291.4" r="1.6"/>
<circle cx="81.8" cy="301.2" r="1.6"/>
<circle cx="72.1" cy="303.9" r="1.6"/>
<circle cx="64.9" cy="296.8" r="1.6"/>
<circle cx="67.4" cy="287.0" r="1.6"/>
<circle cx="77.1" cy="284.3" r="1.6"/>
<circle cx="91.9" cy="298.2" r="1.6"/>
<circle cx="79.7" cy="311.1" r="1.6"/>
<circle cx="62.4" cy="307.1" r="1.6"/>
<circle cx="57.3" cy="290.0" r="1.6"/>
<circle cx="69.5" cy="277.1" r="1.6"/>
<circle cx="86.8" cy="281.1" r="1.6"/>
<circle cx="106.5" cy="286.2" r="1.6"/>
<circle cx="116.2" cy="283.5" r="1.6"/>
<circle cx="113.7" cy="293.3" r="1.6"/>
<circle cx="104.0" cy="296.0" r="1.6"/>
<circle cx="96.8" cy="288.9" r="1.6"/>
<circle cx="99.3" cy="279.1" r="1.6"/>
<circle cx="109.0" cy="276.4" r="1.6"/>
<circle cx="123.8" cy="290.3" r="1.6"/>
<circle cx="111.6" cy="303.2" r="1.6"/>
<circle cx="106.5" cy="323.8" r="1.6"/>
<circle cx="116.2" cy="321.1" r="1.6"/>
<circle cx="113.7" cy="330.9" r="1.6"/>
<circle cx="104.0" cy="333.6" r="1.6"/>
<circle cx="96.8" cy="326.5" r="1.6"/>
<circle cx="99.3" cy="316.7" r="1.6"/>
<circle cx="109.0" cy="314.0" r="1.6"/>
<circle cx="123.8" cy="327.9" r="1.6"/>
<circle cx="111.6" cy="340.8" r="1.6"/>
<circle cx="101.4" cy="306.8" r="1.6"/>
<circle cx="118.7" cy="310.8" r="1.6"/>
<circle cx="101.4" cy="344.4" r="1.6"/>
<circle cx="118.7" cy="348.4" r="1.6"/>
<circle cx="148.6" cy="350.6" r="1.6"/>
<circle cx="131.7" cy="346.2" r="1.6"/>
<circle cx="141.4" cy="343.5" r="1.6"/>
<circle cx="133.8" cy="336.3" r="1.6"/>
<circle cx="151.1" cy="340.3" r="1.6"/>
<circle cx="138.9" cy="315.7" r="1.6"/>
<circle cx="148.6" cy="313.0" r="1.6"/>
<circle cx="146.1" cy="322.8" r="1.6"/>
<circle cx="136.4" cy="325.5" r="1.6"/>
<circle cx="129.2" cy="318.4" r="1.6"/>
<circle cx="131.7" cy="308.6" r="1.6"/>
<circle cx="141.4" cy="305.9" r="1.6"/>
<circle cx="156.2" cy="319.8" r="1.6"/>
<circle cx="144.0" cy="332.7" r="1.6"/>
<circle cx="133.8" cy="298.7" r="1.6"/>
<circle cx="151.1" cy="302.7" r="1.6"/>
<circle cx="172.6" cy="334.5" r="1.6"/>
<circle cx="182.3" cy="331.8" r="1.6"/>
<circle cx="179.8" cy="341.6" r="1.6"/>
<circle cx="170.1" cy="344.3" r="1.6"/>
<circle cx="162.9" cy="337.2" r="1.6"/>
<circle cx="165.4" cy="327.4" r="1.6"/>
<circle cx="175.1" cy="324.7" r="1.6"/>
<circle cx="189.9" cy="338.6" r="1.6"/>
<circle cx="160.4" cy="347.5" r="1.6"/>
<circle cx="155.3" cy="330.4" r="1.6"/>
<circle cx="167.5" cy="317.5" r="1.6"/>
<circle cx="184.8" cy="321.5" r="1.6"/>
<circle cx="216.0" cy="350.6" r="1.6"/>
<circle cx="199.1" cy="346.2" r="1.6"/>
<circle cx="208.8" cy="343.5" r="1.6"/>
<circle cx="189.0" cy="349.2" r="1.6"/>
<circle cx="201.2" cy="336.3" r="1.6"/>
<circle cx="218.5" cy="340.3" r="1.6"/>
<circle cx="138.9" cy="278.1" r="1.6"/>
<circle cx="148.6" cy="275.4" r="1.6"/>
<circle cx="146.1" cy="285.2" r="1.6"/>
<circle cx="136.4" cy="287.9" r="1.6"/>
<circle cx="129.2" cy="280.8" r="1.6"/>
<circle cx="156.2" cy="282.2" r="1.6"/>
<circle cx="144.0" cy="295.1" r="1.6"/>
<circle cx="172.6" cy="296.9" r="1.6"/>
<circle cx="182.3" cy="294.2" r="1.6"/>
<circle cx="179.8" cy="304.0" r="1.6"/>
<circle cx="170.1" cy="306.7" r="1.6"/>
<circle cx="162.9" cy="299.6" r="1.6"/>
<circle cx="165.4" cy="289.8" r="1.6"/>
<circle cx="175.1" cy="287.1" r="1.6"/>
<circle cx="189.9" cy="301.0" r="1.6"/>
<circle cx="177.7" cy="313.9" r="1.6"/>
<circle cx="160.4" cy="309.9" r="1.6"/>
<circle cx="155.3" cy="292.8" r="1.6"/>
<circle cx="167.5" cy="279.9" r="1.6"/>
<circle cx="184.8" cy="283.9" r="1.6"/>
<circle cx="206.3" cy="315.7" r="1.6"/>
<circle cx="216.0" cy="313.0" r="1.6"/>
<circle cx="213.5" cy="322.8" r="1.6"/>
<circle cx="203.8" cy="325.5" r="1.6"/>
<circle cx="196.6" cy="318.4" r="1.6"/>
<circle cx="199.1" cy="308.6" r="1.6"/>
<circle cx="208.8" cy="305.9" r="1.6"/>
<circle cx="223.6" cy="319.8" r="1.6"/>
<circle cx="211.4" cy="332.7" r="1.6"/>
<circle cx="194.1" cy="328.7" r="1.6"/>
<circle cx="189.0" cy="311.6" r="1.6"/>
<circle cx="201.2" cy="298.7" r="1.6"/>
<circle cx="218.5" cy="302.7" r="1.6"/>
<circle cx="227.8" cy="347.5" r="1.6"/>
<circle cx="222.7" cy="330.4" r="1.6"/>
<circle cx="177.7" cy="276.3" r="1.6"/>
<circle cx="206.3" cy="278.1" r="1.6"/>
<circle cx="216.0" cy="275.4" r="1.6"/>
<circle cx="213.5" cy="285.2" r="1.6"/>
<circle cx="203.8" cy="287.9" r="1.6"/>
<circle cx="196.6" cy="280.8" r="1.6"/>
<circle cx="223.6" cy="282.2" r="1.6"/>
<circle cx="211.4" cy="295.1" r="1.6"/>
<circle cx="194.1" cy="291.1" r="1.6"/>
<circle cx="227.8" cy="309.9" r="1.6"/>
<circle cx="222.7" cy="292.8" r="1.6"/>
</g></g>
<rect x="12.5" y="277.6" width="214.0" height="70.59999999999997" fill="none" stroke="#111" stroke-width="1.2"/>
<text transform="translate(241,51) rotate(-90)" text-anchor="middle" font-family='"Liberation Sans", sans-serif' font-size="11.4" fill="#000"><tspan font-style="italic">U</tspan>=0 eV</text>
<text transform="translate(241,139.2) rotate(-90)" text-anchor="middle" font-family='"Liberation Sans", sans-serif' font-size="11.2" fill="#000"><tspan font-style="italic">U</tspan>=2.5 eV</text>
<text transform="translate(241,228.2) rotate(-90)" text-anchor="middle" font-family='"Liberation Sans", sans-serif' font-size="11.2" fill="#000"><tspan font-style="italic">E</tspan>=0.16 eV</text>
<text transform="translate(241,313.9) rotate(-90)" text-anchor="middle" font-family='"Liberation Sans", sans-serif' font-size="11.2" fill="#000"><tspan font-style="italic">E</tspan>=0.06 eV</text>
<text x="110.8" y="364.3" font-family='"Liberation Sans", sans-serif' font-size="11.5" fill="#000">LDOS</text>
<defs><linearGradient id="cbar2" x1="0" x2="1" y1="0" y2="0"><stop offset="0.0037" stop-color="#ebe04c"/><stop offset="0.0543" stop-color="#ebe04c"/><stop offset="0.0543" stop-color="#e3bc56"/><stop offset="0.1951" stop-color="#e3bc56"/><stop offset="0.1951" stop-color="#d3b064"/><stop offset="0.2543" stop-color="#d3b064"/><stop offset="0.2543" stop-color="#bdb06f"/><stop offset="0.3148" stop-color="#bdb06f"/><stop offset="0.3148" stop-color="#a5b57c"/><stop offset="0.3753" stop-color="#a5b57c"/><stop offset="0.3753" stop-color="#8db88a"/><stop offset="0.4346" stop-color="#8db88a"/><stop offset="0.4346" stop-color="#76b69a"/><stop offset="0.5111" stop-color="#76b69a"/><stop offset="0.5111" stop-color="#69aca8"/><stop offset="0.6099" stop-color="#69aca8"/><stop offset="0.6099" stop-color="#7b9dc0"/><stop offset="0.6568" stop-color="#7b9dc0"/><stop offset="0.6568" stop-color="#5c8ec8"/><stop offset="0.7383" stop-color="#5c8ec8"/><stop offset="0.7383" stop-color="#4d7dc4"/><stop offset="0.8321" stop-color="#4d7dc4"/><stop offset="0.8321" stop-color="#4552aa"/><stop offset="0.9432" stop-color="#4552aa"/><stop offset="0.9432" stop-color="#2d3596"/><stop offset="0.9975" stop-color="#2d3596"/></linearGradient></defs>
<rect x="145.6" y="355.4" width="81.0" height="10.2" fill="url(#cbar2)"/>
<path d="M145.6,365.6 L145.6,355.4 L226.6,355.4 L226.6,365.6" fill="none" stroke="#2a2a2a" stroke-width="0.9"/>
<line x1="145.6" y1="365.6" x2="226.6" y2="365.6" stroke="#777" stroke-width="0.9"/>
<text x="150.5" y="362.8" font-family='"Liberation Sans", sans-serif' font-size="8.1" fill="#000">Low</text>
<text x="205.7" y="362.8" font-family='"Liberation Sans", sans-serif' font-size="8.1" fill="#fff">High</text>
<defs><clipPath id="clipe"><rect x="300.3" y="69.8" width="130.1" height="210.2"/></clipPath><clipPath id="clipf"><rect x="467.3" y="70.1" width="131.3" height="210"/></clipPath></defs>
<rect x="300.3" y="69.8" width="130.09999999999997" height="210.2" fill="none" stroke="#5c5c5c" stroke-width="1"/>
<line x1="300.3" y1="250.0" x2="302.8" y2="250.0" stroke="#5c5c5c" stroke-width="1"/>
<line x1="430.4" y1="250.0" x2="427.9" y2="250.0" stroke="#5c5c5c" stroke-width="1"/>
<line x1="300.3" y1="219.9" x2="302.8" y2="219.9" stroke="#5c5c5c" stroke-width="1"/>
<line x1="430.4" y1="219.9" x2="427.9" y2="219.9" stroke="#5c5c5c" stroke-width="1"/>
<line x1="300.3" y1="189.9" x2="302.8" y2="189.9" stroke="#5c5c5c" stroke-width="1"/>
<line x1="430.4" y1="189.9" x2="427.9" y2="189.9" stroke="#5c5c5c" stroke-width="1"/>
<line x1="300.3" y1="159.9" x2="302.8" y2="159.9" stroke="#5c5c5c" stroke-width="1"/>
<line x1="430.4" y1="159.9" x2="427.9" y2="159.9" stroke="#5c5c5c" stroke-width="1"/>
<line x1="300.3" y1="129.9" x2="302.8" y2="129.9" stroke="#5c5c5c" stroke-width="1"/>
<line x1="430.4" y1="129.9" x2="427.9" y2="129.9" stroke="#5c5c5c" stroke-width="1"/>
<line x1="300.3" y1="99.8" x2="302.8" y2="99.8" stroke="#5c5c5c" stroke-width="1"/>
<line x1="430.4" y1="99.8" x2="427.9" y2="99.8" stroke="#5c5c5c" stroke-width="1"/>
<line x1="322.0" y1="69.8" x2="322.0" y2="72.3" stroke="#5c5c5c" stroke-width="1"/>
<line x1="322.0" y1="280.0" x2="322.0" y2="277.5" stroke="#5c5c5c" stroke-width="1"/>
<line x1="343.7" y1="69.8" x2="343.7" y2="72.3" stroke="#5c5c5c" stroke-width="1"/>
<line x1="343.7" y1="280.0" x2="343.7" y2="277.5" stroke="#5c5c5c" stroke-width="1"/>
<line x1="365.4" y1="69.8" x2="365.4" y2="72.3" stroke="#5c5c5c" stroke-width="1"/>
<line x1="365.4" y1="280.0" x2="365.4" y2="277.5" stroke="#5c5c5c" stroke-width="1"/>
<line x1="387.0" y1="69.8" x2="387.0" y2="72.3" stroke="#5c5c5c" stroke-width="1"/>
<line x1="387.0" y1="280.0" x2="387.0" y2="277.5" stroke="#5c5c5c" stroke-width="1"/>
<line x1="408.7" y1="69.8" x2="408.7" y2="72.3" stroke="#5c5c5c" stroke-width="1"/>
<line x1="408.7" y1="280.0" x2="408.7" y2="277.5" stroke="#5c5c5c" stroke-width="1"/>
<text transform="translate(304.2,285.0) rotate(-90)" text-anchor="end" font-family='"Liberation Sans", sans-serif' font-size="11" fill="#000">−0.6</text>
<text transform="translate(325.9,285.0) rotate(-90)" text-anchor="end" font-family='"Liberation Sans", sans-serif' font-size="11" fill="#000">−0.4</text>
<text transform="translate(347.6,285.0) rotate(-90)" text-anchor="end" font-family='"Liberation Sans", sans-serif' font-size="11" fill="#000">−0.2</text>
<text transform="translate(369.2,285.0) rotate(-90)" text-anchor="end" font-family='"Liberation Sans", sans-serif' font-size="11" fill="#000">0</text>
<text transform="translate(390.9,285.0) rotate(-90)" text-anchor="end" font-family='"Liberation Sans", sans-serif' font-size="11" fill="#000">0.2</text>
<text transform="translate(412.6,285.0) rotate(-90)" text-anchor="end" font-family='"Liberation Sans", sans-serif' font-size="11" fill="#000">0.4</text>
<text transform="translate(434.3,285.0) rotate(-90)" text-anchor="end" font-family='"Liberation Sans", sans-serif' font-size="11" fill="#000">0.6</text>
<text x="296.0" y="283.9" text-anchor="end" font-family='"Liberation Sans", sans-serif' font-size="11" fill="#000">0</text>
<text x="296.0" y="253.9" text-anchor="end" font-family='"Liberation Sans", sans-serif' font-size="11" fill="#000">1</text>
<text x="296.0" y="223.8" text-anchor="end" font-family='"Liberation Sans", sans-serif' font-size="11" fill="#000">2</text>
<text x="296.0" y="193.8" text-anchor="end" font-family='"Liberation Sans", sans-serif' font-size="11" fill="#000">3</text>
<text x="296.0" y="163.8" text-anchor="end" font-family='"Liberation Sans", sans-serif' font-size="11" fill="#000">4</text>
<text x="296.0" y="133.8" text-anchor="end" font-family='"Liberation Sans", sans-serif' font-size="11" fill="#000">5</text>
<text x="296.0" y="103.7" text-anchor="end" font-family='"Liberation Sans", sans-serif' font-size="11" fill="#000">6</text>
<polyline points="300.3,98.6 303.3,99.3 306.3,99.3 309.3,98.8 312.3,99.0 315.3,98.9 318.3,99.2 321.3,99.3 324.3,98.6 327.3,98.5 330.3,99.3 333.3,98.9 336.3,99.3 339.3,98.5 342.3,98.9 345.3,99.2 348.3,98.7 351.3,99.4 354.2,99.0 355.3,85.4 356.5,75.7 357.6,78.9 359.0,88.4 360.4,96.9 361.5,99.3 371.3,99.3 372.6,91.4 373.6,73.4 374.2,65.4 375.0,75.4 376.0,92.4 377.4,99.0 379.0,99.5 382.0,99.4 385.0,98.6 388.0,98.6 391.0,99.3 394.0,99.2 397.0,99.2 400.0,98.8 403.0,99.1 406.0,99.1 409.0,99.1 412.0,98.7 415.0,98.9 418.0,98.9 421.0,99.2 424.0,99.5 427.0,99.4 430.0,99.0" fill="none" stroke="#9a3cc8" stroke-width="1" stroke-linejoin="round" clip-path="url(#clipe)"/>
<polyline points="300.3,129.0 303.3,129.3 306.3,129.2 309.3,129.4 312.3,129.4 315.3,128.9 318.3,128.8 321.3,129.6 324.3,129.1 327.3,129.0 330.3,129.8 333.3,129.3 336.3,129.6 339.3,129.3 342.3,129.4 345.3,129.0 348.3,129.4 351.3,129.7 355.6,129.3 357.2,114.4 358.8,100.4 360.2,116.4 361.8,129.3 370.7,129.3 372.3,120.4 374.2,107.9 376.0,120.4 377.7,129.3 379.5,129.0 382.5,128.9 385.5,129.2 388.5,129.0 391.5,128.9 394.5,129.2 397.5,129.7 400.5,129.6 403.5,129.6 406.5,129.0 409.5,129.3 412.5,129.1 415.5,129.0 418.5,128.9 421.5,129.0 424.5,129.7 427.5,129.6" fill="none" stroke="#3b3fa0" stroke-width="1" stroke-linejoin="round" clip-path="url(#clipe)"/>
<polyline points="360.2,116.4 361.8,129.3 370.7,129.3 372.3,120.4" fill="none" stroke="#9d86d6" stroke-width="1" stroke-linejoin="round" clip-path="url(#clipe)"/>
<polyline points="377.7,129.3 379.5,129.0 382.5,128.9 385.5,129.2 388.5,129.0 391.5,128.9 394.5,129.2 397.5,129.7 400.5,129.6 403.5,129.6 406.5,129.0 409.5,129.3 412.5,129.1 415.5,129.0 418.5,128.9 421.5,129.0 424.5,129.7 427.5,129.6" fill="none" stroke="#6a62bc" stroke-width="1" stroke-linejoin="round" clip-path="url(#clipe)"/>
<polyline points="300.3,159.8 303.3,159.9 306.3,159.9 309.3,160.1 312.3,159.9 315.3,160.0 318.3,159.3 321.3,159.7 326.2,158.3 328.0,159.7 330.0,159.9 333.0,160.0 336.0,159.7 339.0,159.5 341.5,155.9 343.5,159.7 350.5,159.7 352.4,156.9 354.3,159.7 369.5,159.7 371.0,156.1 372.5,148.1 374.0,142.6 375.5,141.4 377.0,143.1 378.5,150.1 380.0,158.1 381.0,159.7 385.0,159.7 389.0,159.7 391.6,158.1 394.0,159.7 396.0,159.6 399.0,159.4 402.0,159.8 405.0,159.4 408.0,159.7 411.0,159.6 414.0,159.3 417.0,159.7 420.0,159.3 423.0,159.6 426.0,159.4 429.0,159.4" fill="none" stroke="#5eb1e0" stroke-width="1" stroke-linejoin="round" clip-path="url(#clipe)"/>
<polyline points="300.3,189.7 303.3,190.3 306.3,189.6 309.3,190.1 312.3,189.6 315.3,189.7 318.3,190.3 321.3,189.7 324.3,190.0 327.3,189.9 330.3,189.9 333.3,189.9 336.3,189.7 339.3,190.2 341.5,184.7 343.5,189.9 371.5,189.9 373.0,185.3 374.2,182.5 375.5,184.8 377.3,185.3 378.8,188.3 380.7,189.9 389.0,189.9 391.6,188.5 394.0,189.9 396.0,189.9 399.0,189.8 402.0,189.6 405.0,190.2 408.0,189.5 411.0,189.9 414.0,190.2 417.0,189.6 420.0,189.9 423.0,190.0 426.0,189.5 429.0,189.8" fill="none" stroke="#42b336" stroke-width="1" stroke-linejoin="round" clip-path="url(#clipe)"/>
<polyline points="300.3,220.0 303.3,219.8 306.3,220.0 309.3,219.6 312.3,220.2 315.3,220.2 318.3,220.1 321.3,219.6 324.3,219.9 327.3,219.7 330.3,219.6 333.3,220.4 336.3,220.4 339.3,219.4 341.5,212.4 343.5,219.9 350.5,219.9 352.4,211.8 354.3,219.9 370.3,219.9 372.3,209.4 374.2,199.6 375.8,205.4 377.5,210.4 379.3,214.4 381.2,219.9 389.0,219.9 391.6,217.9 394.0,219.9 396.0,219.9 399.0,220.0 402.0,220.3 405.0,219.9 408.0,219.9 411.0,220.0 414.0,219.6 417.0,219.9 420.0,220.0 423.0,220.2 426.0,219.5 429.0,219.7" fill="none" stroke="#f7ab3c" stroke-width="1" stroke-linejoin="round" clip-path="url(#clipe)"/>
<polyline points="300.3,250.2 303.3,250.3 306.3,250.3 309.3,249.9 312.3,249.8 315.3,248.9 317.5,250.2 320.0,250.0 323.0,250.3 326.0,250.3 329.0,250.5 332.0,249.9 335.0,250.0 338.0,249.9 341.0,250.0 344.0,250.4 347.0,249.9 350.0,250.2 353.0,250.0 354.5,250.2 356.8,236.7 358.9,222.7 360.3,238.7 361.5,250.2 370.3,250.2 372.3,240.7 374.2,229.2 376.5,240.7 379.0,250.2 381.0,249.9 384.0,250.4 387.0,250.3 390.0,250.6 393.0,250.0 396.0,250.0 399.0,250.4 402.0,250.3 405.0,250.0 408.0,250.3 411.0,250.1 414.0,250.4 417.0,249.9 420.0,250.0 423.0,250.5 426.0,250.1 429.0,250.0" fill="none" stroke="#e2473a" stroke-width="1" stroke-linejoin="round" clip-path="url(#clipe)"/>
<polyline points="300.3,280.1 303.3,279.5 306.3,279.9 309.3,279.6 312.3,280.1 315.3,279.5 318.3,280.0 321.3,279.9 324.3,280.0 327.3,280.1 330.3,279.6 333.3,279.7 336.3,279.9 339.3,279.7 342.3,279.7 345.3,279.6 348.3,280.0 351.3,280.0 354.5,279.8 355.8,263.2 357.2,261.0 358.8,262.2 360.0,268.2 361.1,279.8 372.0,279.8 373.5,262.2 374.6,249.7 375.8,262.2 376.8,279.8 379.0,279.7 382.0,279.8 385.0,279.8 388.0,279.8 391.0,279.7 394.0,279.9 397.0,279.7 400.0,279.9 403.0,279.5 406.0,279.7 409.0,279.7 412.0,279.6 415.0,279.9 418.0,279.7 421.0,280.0 424.0,280.1 427.0,279.7 430.0,280.0" fill="none" stroke="#b5222a" stroke-width="1" stroke-linejoin="round" clip-path="url(#clipe)"/>
<rect x="467.3" y="70.1" width="131.3" height="210.00000000000003" fill="none" stroke="#5c5c5c" stroke-width="1"/>
<line x1="467.3" y1="250.1" x2="469.8" y2="250.1" stroke="#5c5c5c" stroke-width="1"/>
<line x1="598.6" y1="250.1" x2="596.1" y2="250.1" stroke="#5c5c5c" stroke-width="1"/>
<line x1="467.3" y1="220.1" x2="469.8" y2="220.1" stroke="#5c5c5c" stroke-width="1"/>
<line x1="598.6" y1="220.1" x2="596.1" y2="220.1" stroke="#5c5c5c" stroke-width="1"/>
<line x1="467.3" y1="190.1" x2="469.8" y2="190.1" stroke="#5c5c5c" stroke-width="1"/>
<line x1="598.6" y1="190.1" x2="596.1" y2="190.1" stroke="#5c5c5c" stroke-width="1"/>
<line x1="467.3" y1="160.1" x2="469.8" y2="160.1" stroke="#5c5c5c" stroke-width="1"/>
<line x1="598.6" y1="160.1" x2="596.1" y2="160.1" stroke="#5c5c5c" stroke-width="1"/>
<line x1="467.3" y1="130.1" x2="469.8" y2="130.1" stroke="#5c5c5c" stroke-width="1"/>
<line x1="598.6" y1="130.1" x2="596.1" y2="130.1" stroke="#5c5c5c" stroke-width="1"/>
<line x1="467.3" y1="100.1" x2="469.8" y2="100.1" stroke="#5c5c5c" stroke-width="1"/>
<line x1="598.6" y1="100.1" x2="596.1" y2="100.1" stroke="#5c5c5c" stroke-width="1"/>
<line x1="489.2" y1="70.1" x2="489.2" y2="72.6" stroke="#5c5c5c" stroke-width="1"/>
<line x1="489.2" y1="280.1" x2="489.2" y2="277.6" stroke="#5c5c5c" stroke-width="1"/>
<line x1="511.1" y1="70.1" x2="511.1" y2="72.6" stroke="#5c5c5c" stroke-width="1"/>
<line x1="511.1" y1="280.1" x2="511.1" y2="277.6" stroke="#5c5c5c" stroke-width="1"/>
<line x1="533.0" y1="70.1" x2="533.0" y2="72.6" stroke="#5c5c5c" stroke-width="1"/>
<line x1="533.0" y1="280.1" x2="533.0" y2="277.6" stroke="#5c5c5c" stroke-width="1"/>
<line x1="554.8" y1="70.1" x2="554.8" y2="72.6" stroke="#5c5c5c" stroke-width="1"/>
<line x1="554.8" y1="280.1" x2="554.8" y2="277.6" stroke="#5c5c5c" stroke-width="1"/>
<line x1="576.7" y1="70.1" x2="576.7" y2="72.6" stroke="#5c5c5c" stroke-width="1"/>
<line x1="576.7" y1="280.1" x2="576.7" y2="277.6" stroke="#5c5c5c" stroke-width="1"/>
<text transform="translate(471.2,285.1) rotate(-90)" text-anchor="end" font-family='"Liberation Sans", sans-serif' font-size="11" fill="#000">−0.6</text>
<text transform="translate(493.1,285.1) rotate(-90)" text-anchor="end" font-family='"Liberation Sans", sans-serif' font-size="11" fill="#000">−0.4</text>
<text transform="translate(515.0,285.1) rotate(-90)" text-anchor="end" font-family='"Liberation Sans", sans-serif' font-size="11" fill="#000">−0.2</text>
<text transform="translate(536.9,285.1) rotate(-90)" text-anchor="end" font-family='"Liberation Sans", sans-serif' font-size="11" fill="#000">0</text>
<text transform="translate(558.7,285.1) rotate(-90)" text-anchor="end" font-family='"Liberation Sans", sans-serif' font-size="11" fill="#000">0.2</text>
<text transform="translate(580.6,285.1) rotate(-90)" text-anchor="end" font-family='"Liberation Sans", sans-serif' font-size="11" fill="#000">0.4</text>
<text transform="translate(602.5,285.1) rotate(-90)" text-anchor="end" font-family='"Liberation Sans", sans-serif' font-size="11" fill="#000">0.6</text>
<polyline points="467.1,279.9 476.9,278.9 479.6,280.3 483.0,277.3 486.4,278.2 493.2,278.5 495.3,273.9 497.3,278.2 499.4,279.9 502.8,277.6 506.2,276.2 508.9,277.1 511.0,275.8 513.0,279.3 514.4,279.9 517.1,261.9 518.5,261.2 519.5,263.2 521.6,243.5 523.2,260.5 524.6,275.5 526.0,280.3 554.6,280.3 560.4,279.9 562.5,276.8 564.5,267.2 567.2,258.4 568.9,265.9 570.0,273.4 571.6,269.3 573.4,276.8 574.7,279.8 576.8,279.5 579.5,272.7 581.6,272.4 585.0,275.1 587.7,278.1 589.7,276.5 592.5,278.4 595.9,277.5 598.6,278.8" fill="none" stroke="#b5222a" stroke-width="1" stroke-linejoin="round" clip-path="url(#clipf)"/>
<polyline points="467.1,249.4 472.8,248.9 479.6,249.6 483.0,247.6 486.4,245.3 490.5,248.3 493.2,247.2 499.4,249.9 503.5,246.9 506.2,242.1 508.2,247.6 511.6,246.2 515.0,248.3 517.8,242.8 519.8,237.4 520.9,228.2 523.1,222.7 524.2,222.2 525.4,233.7 526.9,250.3 536.9,249.9 540.0,249.8 543.5,250.3 546.8,249.3 552.9,250.2 559.1,247.5 561.1,249.3 565.2,244.1 566.4,238.0 567.5,230.6 569.2,235.6 571.3,241.4 576.8,249.5 580.2,244.8 585.0,242.0 587.4,249.5 589.3,245.2 593.1,248.2 597.9,248.4 598.9,248.4" fill="none" stroke="#e2473a" stroke-width="1" stroke-linejoin="round" clip-path="url(#clipf)"/>
<polyline points="467.1,219.3 470.4,218.7 473.8,212.7 476.0,218.2 479.3,217.1 481.9,219.3 484.2,216.0 486.4,218.2 488.6,212.7 491.5,218.2 494.8,217.1 499.2,218.2 504.8,216.0 509.2,217.8 513.6,217.1 520.3,218.2 524.0,211.1 526.2,220.0 536.4,220.0 539.5,209.4 542.4,220.0 545.7,220.0 548.4,210.5 550.6,213.8 552.4,220.4 554.6,209.4 556.4,210.5 559.0,205.4 562.3,210.5 566.8,214.9 570.1,216.0 574.5,212.7 577.8,216.0 582.3,213.3 586.7,214.9 590.0,213.8 594.5,216.0 598.9,218.7" fill="none" stroke="#f7ab3c" stroke-width="1" stroke-linejoin="round" clip-path="url(#clipf)"/>
<polyline points="467.1,189.7 472.6,188.1 477.1,189.2 481.5,187.5 485.9,186.6 489.3,187.7 492.6,186.6 497.0,188.1 501.4,189.2 505.9,187.7 510.3,188.8 513.6,187.5 517.4,185.9 520.3,188.1 524.7,189.2 532.4,189.7 539.1,189.9 545.7,188.8 548.4,179.3 550.2,172.6 551.9,190.3 553.5,182.6 555.0,177.0 556.8,183.7 559.0,172.6 561.7,177.0 563.9,183.7 567.9,185.9 572.3,185.9 575.6,184.4 579.0,185.9 583.4,185.2 587.8,187.0 592.2,188.1 594.9,184.4 598.9,185.9" fill="none" stroke="#42b336" stroke-width="1" stroke-linejoin="round" clip-path="url(#clipf)"/>
<polyline points="467.1,159.3 470.4,158.2 473.8,152.7 476.0,157.1 478.2,154.9 480.4,158.2 482.6,153.8 484.8,157.1 488.1,152.7 490.4,156.0 493.7,158.2 497.0,157.8 501.4,159.3 504.8,156.0 508.1,158.2 512.5,154.9 515.8,157.8 520.3,158.2 524.0,150.5 525.8,159.3 526.9,160.0 536.9,160.0 539.1,140.5 541.3,160.0 545.7,160.0 548.4,144.9 550.6,151.6 552.4,160.4 554.6,147.1 556.8,153.8 559.0,146.0 563.5,150.5 566.8,154.9 570.1,153.8 574.5,149.8 577.8,153.8 582.3,148.3 586.7,156.0 590.0,153.8 594.5,150.5 598.9,148.3" fill="none" stroke="#5eb1e0" stroke-width="1" stroke-linejoin="round" clip-path="url(#clipf)"/>
<polyline points="467.1,128.9 472.6,128.2 477.1,128.9 481.5,127.8 485.9,128.2 489.3,126.7 494.8,127.4 500.3,127.8 504.4,123.6 508.2,126.6 511.0,128.0 513.1,129.7 514.7,123.6 517.4,121.7 519.4,117.9 520.7,110.3 521.8,104.3 523.8,104.3 524.9,114.6 526.0,127.7 526.7,130.1 548.0,130.0 551.3,128.2 554.6,128.9 557.9,126.7 561.2,128.2 564.6,120.0 567.9,113.4 570.5,117.8 572.3,124.5 575.6,126.7 579.0,124.5 581.2,125.6 583.4,123.4 585.6,122.3 587.4,127.8 589.6,124.5 592.2,128.2 595.6,126.7 598.9,128.9" fill="none" stroke="#3b3fa0" stroke-width="1" stroke-linejoin="round" clip-path="url(#clipf)"/>
<polyline points="526.0,127.7 526.7,130.1 548.0,130.0" fill="none" stroke="#9d86d6" stroke-width="1" stroke-linejoin="round" clip-path="url(#clipf)"/>
<polyline points="548.0,130.0 551.3,128.2 554.6,128.9 557.9,126.7 561.2,128.2 564.6,120.0 567.9,113.4 570.5,117.8 572.3,124.5 575.6,126.7 579.0,124.5 581.2,125.6 583.4,123.4 585.6,122.3 587.4,127.8 589.6,124.5 592.2,128.2 595.6,126.7 598.9,128.9" fill="none" stroke="#6a62bc" stroke-width="1" stroke-linejoin="round" clip-path="url(#clipf)"/>
<polyline points="467.1,99.7 469.5,99.2 472.6,98.6 475.0,99.5 477.1,99.0 480.0,98.8 482.6,96.8 485.9,98.3 489.3,97.9 493.7,95.7 497.0,96.8 499.0,98.4 501.4,99.4 503.5,97.0 505.9,94.6 508.3,96.0 510.5,95.7 513.2,98.7 515.0,98.2 515.9,92.2 516.8,82.4 517.9,77.5 519.0,79.6 519.7,80.7 520.5,75.8 521.4,68.7 522.2,73.6 523.0,82.4 524.1,92.7 525.2,97.6 526.6,100.4 554.6,100.1 559.0,99.0 562.3,94.6 565.2,83.5 567.4,81.7 569.7,87.9 572.3,95.7 575.0,99.0 577.8,95.7 581.6,91.3 584.5,94.6 587.8,97.9 592.2,96.8 595.5,98.5 598.9,99.0" fill="none" stroke="#9a3cc8" stroke-width="1" stroke-linejoin="round" clip-path="url(#clipf)"/>
<path d="M373.9,128.4 L375.9,128.4 L375.9,131.0 L378.8,131.0 L374.9,137.0 L371.0,131.0 L373.9,131.0 Z" fill="#5cb0e0"/>
<path d="M374.0,170.9 L376.0,170.9 L376.0,173.4 L378.6,173.4 L375.0,179.7 L371.4,173.4 L374.0,173.4 Z" fill="#2ea62e"/>
<path d="M372.7,189.2 L374.7,189.2 L374.7,191.7 L377.3,191.7 L373.7,198.6 L370.1,191.7 L372.7,191.7 Z" fill="#f8a836"/>
<path d="M537.9,130.9 L539.9,130.9 L539.9,133.8 L542.8,133.8 L538.9,139.7 L535.0,133.8 L537.9,133.8 Z" fill="#5cb0e0"/>
<path d="M549.8,162.3 L551.8,162.3 L551.8,165.1 L554.7,165.1 L550.8,171.9 L546.9,165.1 L549.8,165.1 Z" fill="#2ea62e"/>
<path d="M537.9,196.9 L539.9,196.9 L539.9,199.3 L542.8,199.3 L538.9,205.4 L535.0,199.3 L537.9,199.3 Z" fill="#f8a836"/>
<text transform="translate(280.4,173.8) rotate(-90)" text-anchor="middle" font-family='"Liberation Sans", sans-serif' font-size="11.6" fill="#000">Normalized spectral intensity</text>
<text x="365.5" y="322.3" text-anchor="middle" font-family='"Liberation Sans", sans-serif' font-size="11.5" fill="#000"><tspan font-style="italic">E</tspan>–<tspan font-style="italic">E</tspan><tspan font-size="8.5" dy="2.5">F</tspan><tspan dy="-2.5"> (eV)</tspan></text>
<text x="532.5" y="322.3" text-anchor="middle" font-family='"Liberation Sans", sans-serif' font-size="11.5" fill="#000"><tspan font-style="italic">E</tspan>–<tspan font-style="italic">E</tspan><tspan font-size="8.5" dy="2.5">F</tspan><tspan dy="-2.5"> (eV)</tspan></text>
</svg>
</body></html>
